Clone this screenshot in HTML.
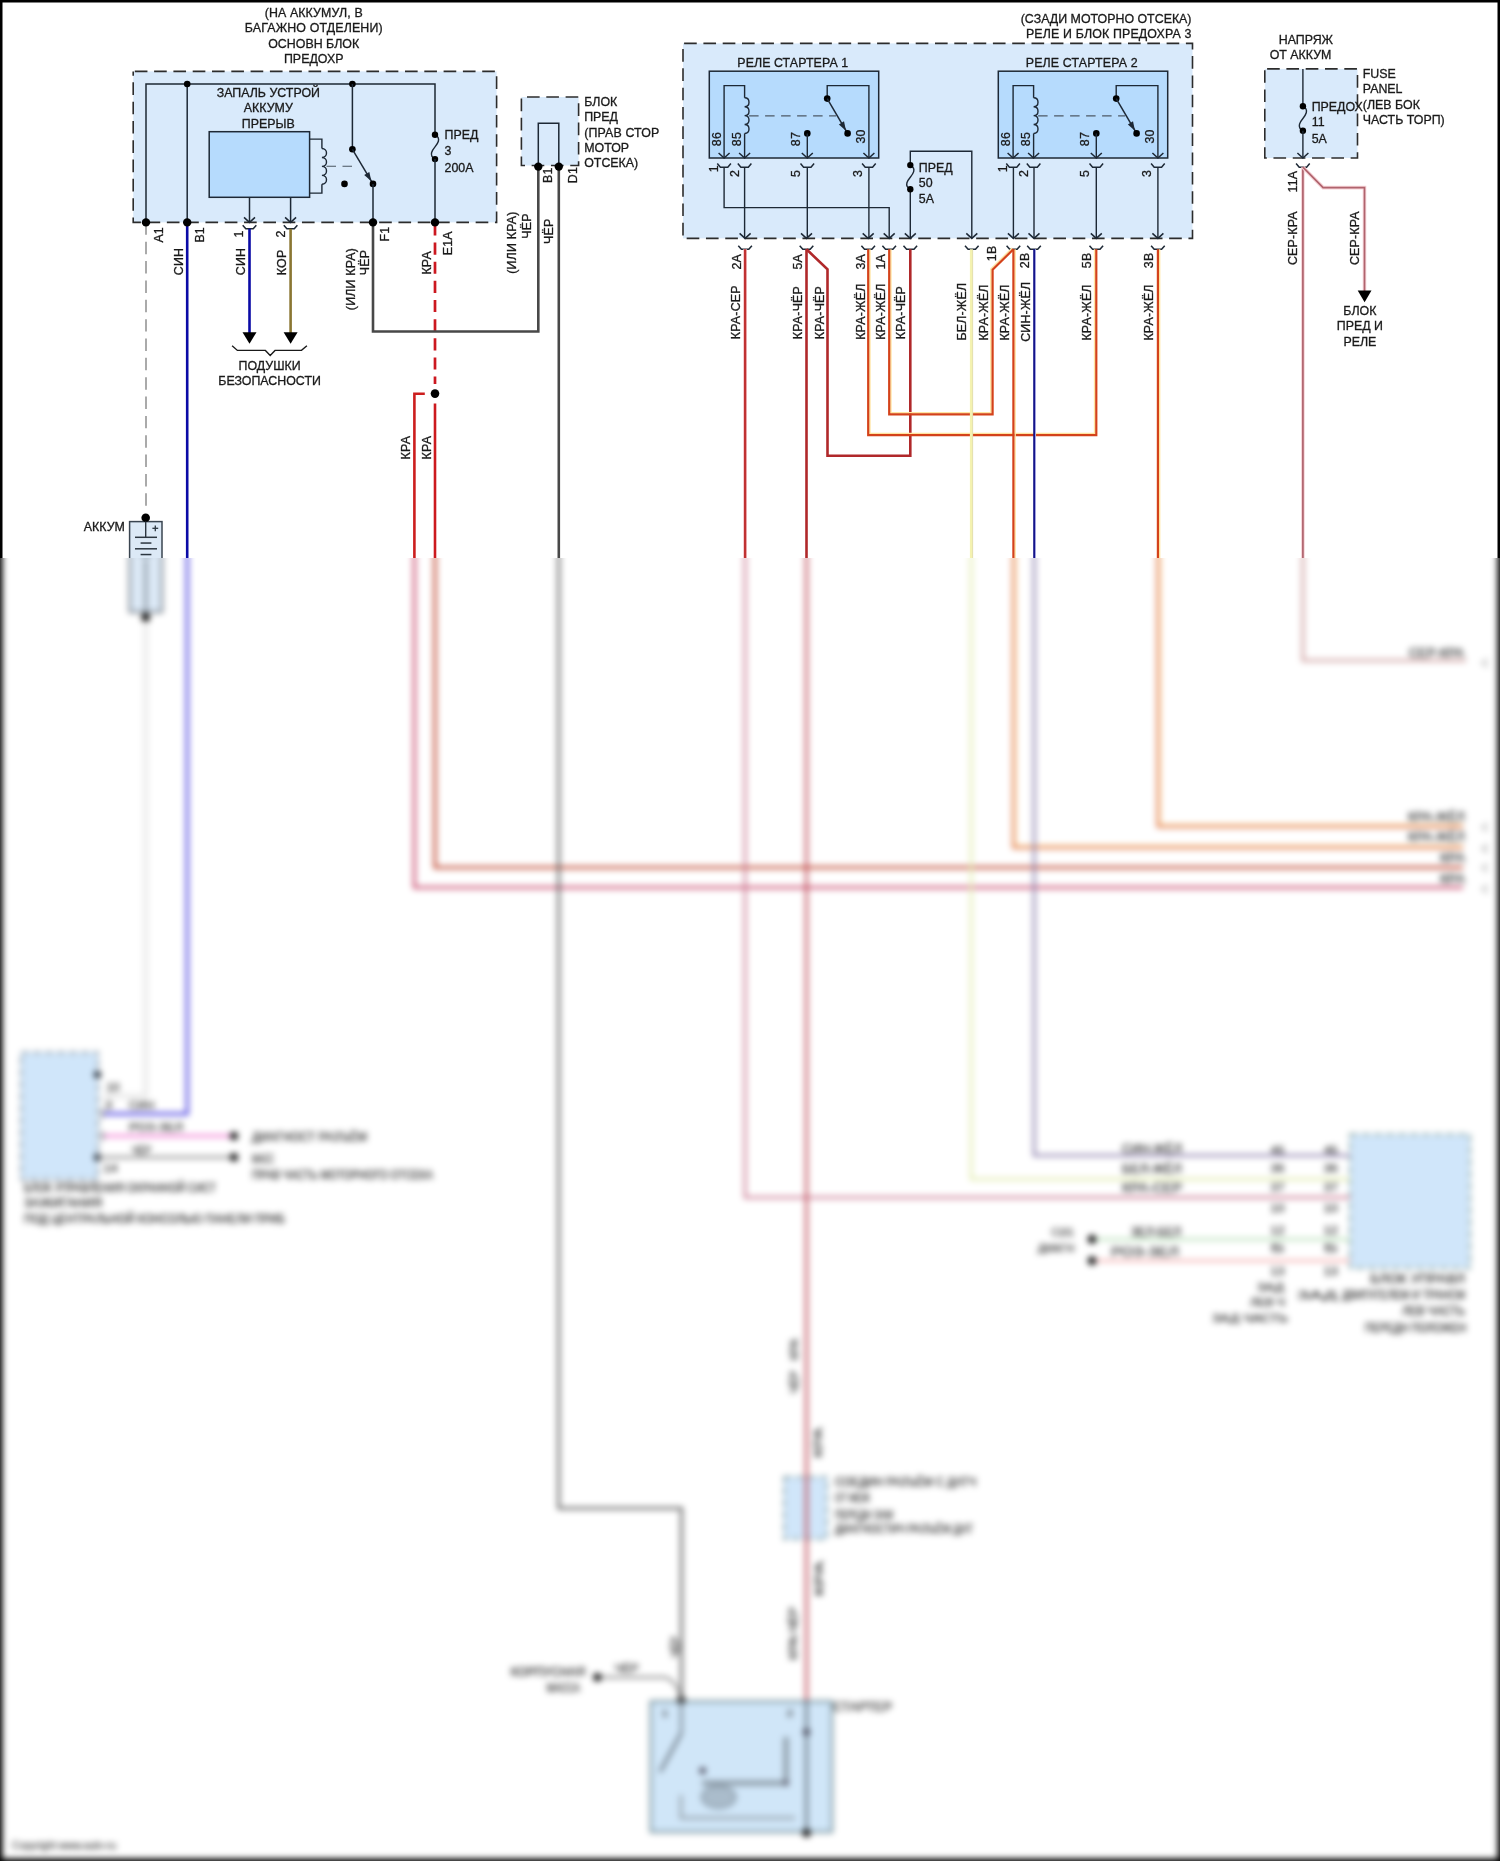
<!DOCTYPE html>
<html><head><meta charset="utf-8"><title>diagram</title>
<style>
html,body{margin:0;padding:0;background:#fff;overflow:hidden;}
svg{display:block;will-change:transform;}
text{font-family:"Liberation Sans",sans-serif;stroke:#1a1a1a;}
.t text{stroke-width:0.3px;}
.t text.v{letter-spacing:0.2px;}
.b text{stroke-width:0.25px;}
</style></head><body>
<svg width="1500" height="1861" viewBox="0 0 1500 1861">
<defs>
<filter id="bl" x="-0.05" y="-0.05" width="1.1" height="1.1" color-interpolation-filters="sRGB"><feGaussianBlur stdDeviation="3.0"/></filter>
<clipPath id="ct"><rect x="0" y="0" width="1500" height="558"/></clipPath>
<clipPath id="cb"><rect x="0" y="558" width="1500" height="1303"/></clipPath>
</defs>
<g clip-path="url(#ct)" class="t">
<rect x="-30" y="-30" width="1560" height="1921" fill="#fff"/>
<text x="313.7" y="17.2" font-size="12.4" fill="#1a1a1a" text-anchor="middle"  textLength="98.0" lengthAdjust="spacing">(НА АККУМУЛ, В</text>
<text x="313.7" y="32.4" font-size="12.4" fill="#1a1a1a" text-anchor="middle"  textLength="137.7" lengthAdjust="spacing">БАГАЖНО ОТДЕЛЕНИ)</text>
<text x="313.7" y="47.6" font-size="12.4" fill="#1a1a1a" text-anchor="middle" >ОСНОВН БЛОК</text>
<text x="313.7" y="62.8" font-size="12.4" fill="#1a1a1a" text-anchor="middle" >ПРЕДОХР</text>
<rect x="133.2" y="71.4" width="363.4" height="151" fill="#d9eafb" stroke="#2c2c2c" stroke-width="1.6" stroke-dasharray="12.65 6.65" stroke-dashoffset="17.7"/>
<polyline points="146,222.4 146,84 435,84 435,134.7" fill="none" stroke="#1d2835" stroke-width="1.5" stroke-linejoin="miter" />
<line x1="187.2" y1="84" x2="187.2" y2="222.4" stroke="#1d2835" stroke-width="1.5" />
<circle cx="187.2" cy="84" r="3.3" fill="#000"/>
<circle cx="352.4" cy="84" r="3.3" fill="#000"/>
<line x1="352.4" y1="84" x2="352.4" y2="149.3" stroke="#1d2835" stroke-width="1.5" />
<circle cx="352.4" cy="149.3" r="3.3" fill="#000"/>
<line x1="352.4" y1="149.3" x2="373" y2="183.9" stroke="#1d2835" stroke-width="1.5" />
<polygon points="371.36,181.15 364.18,174.95 369.34,171.88" fill="#1d2835"/>
<circle cx="373" cy="183.9" r="3.3" fill="#000"/>
<circle cx="344.5" cy="183.9" r="3.3" fill="#000"/>
<line x1="373" y1="183.9" x2="373" y2="222.4" stroke="#1d2835" stroke-width="1.5" />
<path d="M435,134.7 C442,138.36 437,144.46 435,146.9 C433,149.34 428,155.44 435,159.1" fill="none" stroke="#1d2835" stroke-width="1.4"/>
<circle cx="435" cy="134.7" r="3.2" fill="#000"/>
<circle cx="435" cy="159.1" r="3.2" fill="#000"/>
<line x1="435" y1="159.1" x2="435" y2="222.4" stroke="#1d2835" stroke-width="1.5" />
<text x="444.5" y="139.3" font-size="12.4" fill="#1a1a1a" text-anchor="start" >ПРЕД</text>
<text x="444.5" y="154.6" font-size="12.4" fill="#1a1a1a" text-anchor="start" >3</text>
<text x="444.5" y="171.7" font-size="12.4" fill="#1a1a1a" text-anchor="start" >200A</text>
<text x="268.3" y="96.7" font-size="12.4" fill="#1a1a1a" text-anchor="middle" >ЗАПАЛЬ УСТРОЙ</text>
<text x="268.3" y="112.2" font-size="12.4" fill="#1a1a1a" text-anchor="middle" >АККУМУ</text>
<text x="268.3" y="127.6" font-size="12.4" fill="#1a1a1a" text-anchor="middle" >ПРЕРЫВ</text>
<rect x="209.2" y="131.7" width="100.4" height="65.6" fill="#b6dbfd" stroke="#1d2835" stroke-width="1.5" />
<polyline points="309.6,139.1 321.9,139.1 321.9,148.5" fill="none" stroke="#1d2835" stroke-width="1.4" stroke-linejoin="miter" />
<path d="M321.9,148.5 C328.02,148.5 328.02,157.45 321.9,157.45 C328.02,157.45 328.02,166.4 321.9,166.4 C328.02,166.4 328.02,175.35 321.9,175.35 C328.02,175.35 328.02,184.3 321.9,184.3 " fill="none" stroke="#1d2835" stroke-width="1.4"/>
<polyline points="321.9,184.3 321.9,193.1 309.6,193.1" fill="none" stroke="#1d2835" stroke-width="1.4" stroke-linejoin="miter" />
<line x1="326.5" y1="166.3" x2="354.1" y2="166.3" stroke="#4a5560" stroke-width="1.1" stroke-dasharray="9.5 6.5"/>
<line x1="249.5" y1="197.4" x2="249.5" y2="222.4" stroke="#1d2835" stroke-width="1.5" />
<polyline points="244,217.4 249.5,222.4 255,217.4" fill="none" stroke="#1d2835" stroke-width="1.5" stroke-linejoin="miter" />
<line x1="290.6" y1="197.4" x2="290.6" y2="222.4" stroke="#1d2835" stroke-width="1.5" />
<polyline points="285.1,217.4 290.6,222.4 296.1,217.4" fill="none" stroke="#1d2835" stroke-width="1.5" stroke-linejoin="miter" />
<line x1="146" y1="222.4" x2="146" y2="506.3" stroke="#8e8e8e" stroke-width="1.5" stroke-dasharray="12.45 6.9"/>
<polyline points="187.2,222.4 187.2,1113.8 104,1113.8" fill="none" stroke="#0a0aa6" stroke-width="2.6" stroke-linejoin="miter" />
<polyline points="242.7,225.2 245.8,228.8 253.2,228.8 256.3,225.2" fill="none" stroke="#1d2835" stroke-width="1.5" stroke-linejoin="miter" />
<polyline points="249.5,228.8 249.5,333" fill="none" stroke="#0a0aa6" stroke-width="2.6" stroke-linejoin="miter" />
<polygon points="242.5,332.2 256.5,332.2 249.5,343.8" fill="#000"/>
<polyline points="283.8,225.2 286.9,228.8 294.3,228.8 297.4,225.2" fill="none" stroke="#1d2835" stroke-width="1.5" stroke-linejoin="miter" />
<polyline points="290.6,228.8 290.6,333" fill="none" stroke="#8a7632" stroke-width="2.6" stroke-linejoin="miter" />
<polygon points="283.6,332.2 297.6,332.2 290.6,343.8" fill="#000"/>
<polyline points="232.1,345.7 237.4,350.4 265.4,350.4 270.2,355.4 275,350.4 301.5,350.4 306.9,345.7" fill="none" stroke="#1a1a1a" stroke-width="1.4" stroke-linejoin="miter" />
<text x="269.6" y="369.8" font-size="12.4" fill="#1a1a1a" text-anchor="middle" >ПОДУШКИ</text>
<text x="269.6" y="385.3" font-size="12.4" fill="#1a1a1a" text-anchor="middle" >БЕЗОПАСНОСТИ</text>
<text class="v" transform="translate(162.72,242.6) rotate(-90)" font-size="12.4" fill="#1a1a1a" text-anchor="start">A1</text>
<text class="v" transform="translate(204.02,242.6) rotate(-90)" font-size="12.4" fill="#1a1a1a" text-anchor="start">B1</text>
<text class="v" transform="translate(182.72,275.2) rotate(-90)" font-size="12.4" fill="#1a1a1a" text-anchor="start">СИН</text>
<text class="v" transform="translate(243.32,237.6) rotate(-90)" font-size="12.4" fill="#1a1a1a" text-anchor="start">1</text>
<text class="v" transform="translate(244.82,275.2) rotate(-90)" font-size="12.4" fill="#1a1a1a" text-anchor="start">СИН</text>
<text class="v" transform="translate(285.42,237.6) rotate(-90)" font-size="12.4" fill="#1a1a1a" text-anchor="start">2</text>
<text class="v" transform="translate(286.12,275.2) rotate(-90)" font-size="12.4" fill="#1a1a1a" text-anchor="start">КОР</text>
<text class="v" transform="translate(389.32,241.5) rotate(-90)" font-size="12.4" fill="#1a1a1a" text-anchor="start">F1</text>
<text class="v" transform="translate(369.12,275.2) rotate(-90)" font-size="12.4" fill="#1a1a1a" text-anchor="start">ЧЁР</text>
<text class="v" transform="translate(354.52,310.2) rotate(-90)" font-size="12.4" fill="#1a1a1a" text-anchor="start">(ИЛИ КРА)</text>
<text class="v" transform="translate(451.72,255.3) rotate(-90)" font-size="12.4" fill="#1a1a1a" text-anchor="start">E1A</text>
<text class="v" transform="translate(430.92,274.6) rotate(-90)" font-size="12.4" fill="#1a1a1a" text-anchor="start">КРА</text>
<line x1="435" y1="223.4" x2="435" y2="384" stroke="#cc1820" stroke-width="2.7" stroke-dasharray="12.1 7.05"/>
<polyline points="373,222.4 373,331.5 538.3,331.5 538.3,166.6" fill="none" stroke="#484848" stroke-width="2.6" stroke-linejoin="miter" />
<circle cx="146" cy="222.4" r="4.2" fill="#000"/>
<circle cx="187.2" cy="222.4" r="4.2" fill="#000"/>
<circle cx="373" cy="222.4" r="4.2" fill="#000"/>
<circle cx="435" cy="222.4" r="4.2" fill="#000"/>
<circle cx="435" cy="393.6" r="4.3" fill="#000"/>
<polyline points="424.8,393.7 414.4,393.7 414.4,887.5 1463,887.5" fill="none" stroke="#cc1e1e" stroke-width="2.6" stroke-linejoin="miter" />
<polyline points="435,403.5 435,867.5 1463,867.5" fill="none" stroke="#cc1a1e" stroke-width="2.6" stroke-linejoin="miter" />
<text class="v" transform="translate(409.72,459.4) rotate(-90)" font-size="12.4" fill="#1a1a1a" text-anchor="start">КРА</text>
<text class="v" transform="translate(430.92,459.4) rotate(-90)" font-size="12.4" fill="#1a1a1a" text-anchor="start">КРА</text>
<rect x="521.4" y="97" width="57.2" height="68.5" fill="#d9eafb" stroke="#2c2c2c" stroke-width="1.6" stroke-dasharray="12.65 6.65" stroke-dashoffset="13.7"/>
<polyline points="538.3,166.6 538.3,123.2 558.8,123.2 558.8,166.6" fill="none" stroke="#1d2835" stroke-width="1.5" stroke-linejoin="miter" />
<text x="584.2" y="106.2" font-size="12.4" fill="#1a1a1a" text-anchor="start" >БЛОК</text>
<text x="584.2" y="121.45" font-size="12.4" fill="#1a1a1a" text-anchor="start" >ПРЕД</text>
<text x="584.2" y="136.7" font-size="12.4" fill="#1a1a1a" text-anchor="start"  textLength="75.0" lengthAdjust="spacing">(ПРАВ СТОР</text>
<text x="584.2" y="151.95" font-size="12.4" fill="#1a1a1a" text-anchor="start" >МОТОР</text>
<text x="584.2" y="167.2" font-size="12.4" fill="#1a1a1a" text-anchor="start" >ОТСЕКА)</text>
<text class="v" transform="translate(551.92,183) rotate(-90)" font-size="12.4" fill="#1a1a1a" text-anchor="start">B1</text>
<text class="v" transform="translate(577.22,183.2) rotate(-90)" font-size="12.4" fill="#1a1a1a" text-anchor="start">D1</text>
<polyline points="558.8,166.6 558.8,1508.3 681.5,1508.3 681.5,1700" fill="none" stroke="#484848" stroke-width="2.6" stroke-linejoin="miter" />
<circle cx="538.3" cy="166.6" r="4.2" fill="#000"/>
<circle cx="558.8" cy="166.6" r="4.2" fill="#000"/>
<text class="v" transform="translate(516.42,273.8) rotate(-90)" font-size="12.4" fill="#1a1a1a" text-anchor="start">(ИЛИ КРА)</text>
<text class="v" transform="translate(530.92,238.8) rotate(-90)" font-size="12.4" fill="#1a1a1a" text-anchor="start">ЧЁР</text>
<text class="v" transform="translate(552.62,244) rotate(-90)" font-size="12.4" fill="#1a1a1a" text-anchor="start">ЧЁР</text>
<text x="1191.5" y="23.2" font-size="12.4" fill="#1a1a1a" text-anchor="end" >(СЗАДИ МОТОРНО ОТСЕКА)</text>
<text x="1191.5" y="38" font-size="12.4" fill="#1a1a1a" text-anchor="end"  textLength="165.6" lengthAdjust="spacing">РЕЛЕ И БЛОК ПРЕДОХРА 3</text>
<rect x="683" y="43.4" width="509.5" height="195" fill="#d9eafb" stroke="#2c2c2c" stroke-width="1.6" stroke-dasharray="12.65 6.65" stroke-dashoffset="18.2"/>
<text x="737.3" y="67.2" font-size="12.4" fill="#1a1a1a" text-anchor="start"  textLength="110.9" lengthAdjust="spacing">РЕЛЕ СТАРТЕРА 1</text>
<rect x="709.3" y="71.2" width="169.4" height="86.8" fill="#b6dbfd" stroke="#1d2835" stroke-width="1.5" />
<polyline points="724.1,158 724.1,85.6 744.6,85.6 744.6,97.8" fill="none" stroke="#1d2835" stroke-width="1.4" stroke-linejoin="miter" />
<path d="M744.6,97.8 C750.45,97.8 750.45,106.72 744.6,106.72 C750.45,106.72 750.45,115.64 744.6,115.64 C750.45,115.64 750.45,124.56 744.6,124.56 C750.45,124.56 750.45,133.48 744.6,133.48 " fill="none" stroke="#1d2835" stroke-width="1.4"/>
<line x1="744.6" y1="133.5" x2="744.6" y2="158" stroke="#1d2835" stroke-width="1.4" />
<line x1="749.1" y1="115.9" x2="836" y2="115.9" stroke="#4d5a66" stroke-width="1.1" stroke-dasharray="9.5 6.5"/>
<polyline points="868.9,158 868.9,85.6 827.2,85.6 827.2,98.6" fill="none" stroke="#1d2835" stroke-width="1.4" stroke-linejoin="miter" />
<circle cx="827.2" cy="98.6" r="3.3" fill="#000"/>
<line x1="827.2" y1="98.6" x2="847.6" y2="133.4" stroke="#1d2835" stroke-width="1.5" />
<polygon points="845.98,130.64 838.84,124.39 844.02,121.36" fill="#1d2835"/>
<circle cx="847.6" cy="133.4" r="3.3" fill="#000"/>
<circle cx="807.3" cy="133.4" r="3.3" fill="#000"/>
<line x1="807.3" y1="133.4" x2="807.3" y2="158" stroke="#1d2835" stroke-width="1.4" />
<polyline points="718.6,153 724.1,158 729.6,153" fill="none" stroke="#1d2835" stroke-width="1.5" stroke-linejoin="miter" />
<polyline points="739.1,153 744.6,158 750.1,153" fill="none" stroke="#1d2835" stroke-width="1.5" stroke-linejoin="miter" />
<polyline points="801.8,153 807.3,158 812.8,153" fill="none" stroke="#1d2835" stroke-width="1.5" stroke-linejoin="miter" />
<polyline points="863.4,153 868.9,158 874.4,153" fill="none" stroke="#1d2835" stroke-width="1.5" stroke-linejoin="miter" />
<text class="v" transform="translate(720.52,146.2) rotate(-90)" font-size="12.4" fill="#1a1a1a" text-anchor="start">86</text>
<text class="v" transform="translate(740.82,146.2) rotate(-90)" font-size="12.4" fill="#1a1a1a" text-anchor="start">85</text>
<text class="v" transform="translate(800.32,146.2) rotate(-90)" font-size="12.4" fill="#1a1a1a" text-anchor="start">87</text>
<text class="v" transform="translate(864.72,143.6) rotate(-90)" font-size="12.4" fill="#1a1a1a" text-anchor="start">30</text>
<polyline points="717.3,163.6 720.4,167.2 727.8,167.2 730.9,163.6" fill="none" stroke="#1d2835" stroke-width="1.5" stroke-linejoin="miter" />
<polyline points="737.8,163.6 740.9,167.2 748.3,167.2 751.4,163.6" fill="none" stroke="#1d2835" stroke-width="1.5" stroke-linejoin="miter" />
<polyline points="800.5,163.6 803.6,167.2 811,167.2 814.1,163.6" fill="none" stroke="#1d2835" stroke-width="1.5" stroke-linejoin="miter" />
<polyline points="862.1,163.6 865.2,167.2 872.6,167.2 875.7,163.6" fill="none" stroke="#1d2835" stroke-width="1.5" stroke-linejoin="miter" />
<text class="v" transform="translate(717.82,172.3) rotate(-90)" font-size="12.4" fill="#1a1a1a" text-anchor="start">1</text>
<text class="v" transform="translate(738.82,177) rotate(-90)" font-size="12.4" fill="#1a1a1a" text-anchor="start">2</text>
<text class="v" transform="translate(800.32,177) rotate(-90)" font-size="12.4" fill="#1a1a1a" text-anchor="start">5</text>
<text class="v" transform="translate(861.92,177) rotate(-90)" font-size="12.4" fill="#1a1a1a" text-anchor="start">3</text>
<text x="1025.8" y="67.2" font-size="12.4" fill="#1a1a1a" text-anchor="start"  textLength="111.8" lengthAdjust="spacing">РЕЛЕ СТАРТЕРА 2</text>
<rect x="998.3" y="71.2" width="169.4" height="86.8" fill="#b6dbfd" stroke="#1d2835" stroke-width="1.5" />
<polyline points="1013.1,158 1013.1,85.6 1033.6,85.6 1033.6,97.8" fill="none" stroke="#1d2835" stroke-width="1.4" stroke-linejoin="miter" />
<path d="M1033.6,97.8 C1039.45,97.8 1039.45,106.72 1033.6,106.72 C1039.45,106.72 1039.45,115.64 1033.6,115.64 C1039.45,115.64 1039.45,124.56 1033.6,124.56 C1039.45,124.56 1039.45,133.48 1033.6,133.48 " fill="none" stroke="#1d2835" stroke-width="1.4"/>
<line x1="1033.6" y1="133.5" x2="1033.6" y2="158" stroke="#1d2835" stroke-width="1.4" />
<line x1="1038.1" y1="115.9" x2="1125" y2="115.9" stroke="#4d5a66" stroke-width="1.1" stroke-dasharray="9.5 6.5"/>
<polyline points="1157.9,158 1157.9,85.6 1116.2,85.6 1116.2,98.6" fill="none" stroke="#1d2835" stroke-width="1.4" stroke-linejoin="miter" />
<circle cx="1116.2" cy="98.6" r="3.3" fill="#000"/>
<line x1="1116.2" y1="98.6" x2="1136.6" y2="133.4" stroke="#1d2835" stroke-width="1.5" />
<polygon points="1134.98,130.64 1127.84,124.39 1133.02,121.36" fill="#1d2835"/>
<circle cx="1136.6" cy="133.4" r="3.3" fill="#000"/>
<circle cx="1096.3" cy="133.4" r="3.3" fill="#000"/>
<line x1="1096.3" y1="133.4" x2="1096.3" y2="158" stroke="#1d2835" stroke-width="1.4" />
<polyline points="1007.6,153 1013.1,158 1018.6,153" fill="none" stroke="#1d2835" stroke-width="1.5" stroke-linejoin="miter" />
<polyline points="1028.1,153 1033.6,158 1039.1,153" fill="none" stroke="#1d2835" stroke-width="1.5" stroke-linejoin="miter" />
<polyline points="1090.8,153 1096.3,158 1101.8,153" fill="none" stroke="#1d2835" stroke-width="1.5" stroke-linejoin="miter" />
<polyline points="1152.4,153 1157.9,158 1163.4,153" fill="none" stroke="#1d2835" stroke-width="1.5" stroke-linejoin="miter" />
<text class="v" transform="translate(1009.52,146.2) rotate(-90)" font-size="12.4" fill="#1a1a1a" text-anchor="start">86</text>
<text class="v" transform="translate(1029.82,146.2) rotate(-90)" font-size="12.4" fill="#1a1a1a" text-anchor="start">85</text>
<text class="v" transform="translate(1089.32,146.2) rotate(-90)" font-size="12.4" fill="#1a1a1a" text-anchor="start">87</text>
<text class="v" transform="translate(1153.72,143.6) rotate(-90)" font-size="12.4" fill="#1a1a1a" text-anchor="start">30</text>
<polyline points="1006.3,163.6 1009.4,167.2 1016.8,167.2 1019.9,163.6" fill="none" stroke="#1d2835" stroke-width="1.5" stroke-linejoin="miter" />
<polyline points="1026.8,163.6 1029.9,167.2 1037.3,167.2 1040.4,163.6" fill="none" stroke="#1d2835" stroke-width="1.5" stroke-linejoin="miter" />
<polyline points="1089.5,163.6 1092.6,167.2 1100,167.2 1103.1,163.6" fill="none" stroke="#1d2835" stroke-width="1.5" stroke-linejoin="miter" />
<polyline points="1151.1,163.6 1154.2,167.2 1161.6,167.2 1164.7,163.6" fill="none" stroke="#1d2835" stroke-width="1.5" stroke-linejoin="miter" />
<text class="v" transform="translate(1006.82,172.3) rotate(-90)" font-size="12.4" fill="#1a1a1a" text-anchor="start">1</text>
<text class="v" transform="translate(1027.82,177) rotate(-90)" font-size="12.4" fill="#1a1a1a" text-anchor="start">2</text>
<text class="v" transform="translate(1089.32,177) rotate(-90)" font-size="12.4" fill="#1a1a1a" text-anchor="start">5</text>
<text class="v" transform="translate(1150.92,177) rotate(-90)" font-size="12.4" fill="#1a1a1a" text-anchor="start">3</text>
<polyline points="724.1,167.2 724.1,207.6 889.2,207.6 889.2,238.4" fill="none" stroke="#1d2835" stroke-width="1.4" stroke-linejoin="miter" />
<line x1="744.6" y1="167.2" x2="744.6" y2="238.4" stroke="#1d2835" stroke-width="1.4" />
<line x1="807.3" y1="167.2" x2="807.3" y2="238.4" stroke="#1d2835" stroke-width="1.4" />
<line x1="868.9" y1="167.2" x2="868.9" y2="238.4" stroke="#1d2835" stroke-width="1.4" />
<polyline points="910.3,238.4 910.3,189.3" fill="none" stroke="#1d2835" stroke-width="1.4" stroke-linejoin="miter" />
<polyline points="910.3,165.1 910.3,151.3 971.8,151.3 971.8,238.4" fill="none" stroke="#1d2835" stroke-width="1.4" stroke-linejoin="miter" />
<path d="M910.3,165.1 C917.3,168.73 912.3,174.78 910.3,177.2 C908.3,179.62 903.3,185.67 910.3,189.3" fill="none" stroke="#1d2835" stroke-width="1.4"/>
<circle cx="910.3" cy="165.1" r="3.2" fill="#000"/>
<circle cx="910.3" cy="189.3" r="3.2" fill="#000"/>
<text x="918.8" y="171.6" font-size="12.4" fill="#1a1a1a" text-anchor="start" >ПРЕД</text>
<text x="918.8" y="186.6" font-size="12.4" fill="#1a1a1a" text-anchor="start" >50</text>
<text x="918.8" y="202.5" font-size="12.4" fill="#1a1a1a" text-anchor="start" >5A</text>
<line x1="1013.4" y1="167.2" x2="1013.4" y2="238.4" stroke="#1d2835" stroke-width="1.4" />
<line x1="1034" y1="167.2" x2="1034" y2="238.4" stroke="#1d2835" stroke-width="1.4" />
<line x1="1096.3" y1="167.2" x2="1096.3" y2="238.4" stroke="#1d2835" stroke-width="1.4" />
<line x1="1157.9" y1="167.2" x2="1157.9" y2="238.4" stroke="#1d2835" stroke-width="1.4" />
<polyline points="739.6,233.4 745.1,238.4 750.6,233.4" fill="none" stroke="#1d2835" stroke-width="1.5" stroke-linejoin="miter" />
<polyline points="801,233.4 806.5,238.4 812,233.4" fill="none" stroke="#1d2835" stroke-width="1.5" stroke-linejoin="miter" />
<polyline points="862.7,233.4 868.2,238.4 873.7,233.4" fill="none" stroke="#1d2835" stroke-width="1.5" stroke-linejoin="miter" />
<polyline points="883.7,233.4 889.2,238.4 894.7,233.4" fill="none" stroke="#1d2835" stroke-width="1.5" stroke-linejoin="miter" />
<polyline points="904.8,233.4 910.3,238.4 915.8,233.4" fill="none" stroke="#1d2835" stroke-width="1.5" stroke-linejoin="miter" />
<polyline points="966.3,233.4 971.8,238.4 977.3,233.4" fill="none" stroke="#1d2835" stroke-width="1.5" stroke-linejoin="miter" />
<polyline points="1007.9,233.4 1013.4,238.4 1018.9,233.4" fill="none" stroke="#1d2835" stroke-width="1.5" stroke-linejoin="miter" />
<polyline points="1028.5,233.4 1034,238.4 1039.5,233.4" fill="none" stroke="#1d2835" stroke-width="1.5" stroke-linejoin="miter" />
<polyline points="1090.8,233.4 1096.3,238.4 1101.8,233.4" fill="none" stroke="#1d2835" stroke-width="1.5" stroke-linejoin="miter" />
<polyline points="1152.4,233.4 1157.9,238.4 1163.4,233.4" fill="none" stroke="#1d2835" stroke-width="1.5" stroke-linejoin="miter" />
<polyline points="738.3,245.7 741.4,249.3 748.8,249.3 751.9,245.7" fill="none" stroke="#1d2835" stroke-width="1.5" stroke-linejoin="miter" />
<polyline points="799.7,245.7 802.8,249.3 810.2,249.3 813.3,245.7" fill="none" stroke="#1d2835" stroke-width="1.5" stroke-linejoin="miter" />
<polyline points="861.4,245.7 864.5,249.3 871.9,249.3 875,245.7" fill="none" stroke="#1d2835" stroke-width="1.5" stroke-linejoin="miter" />
<polyline points="882.4,245.7 885.5,249.3 892.9,249.3 896,245.7" fill="none" stroke="#1d2835" stroke-width="1.5" stroke-linejoin="miter" />
<polyline points="903.5,245.7 906.6,249.3 914,249.3 917.1,245.7" fill="none" stroke="#1d2835" stroke-width="1.5" stroke-linejoin="miter" />
<polyline points="965,245.7 968.1,249.3 975.5,249.3 978.6,245.7" fill="none" stroke="#1d2835" stroke-width="1.5" stroke-linejoin="miter" />
<polyline points="1006.6,245.7 1009.7,249.3 1017.1,249.3 1020.2,245.7" fill="none" stroke="#1d2835" stroke-width="1.5" stroke-linejoin="miter" />
<polyline points="1027.2,245.7 1030.3,249.3 1037.7,249.3 1040.8,245.7" fill="none" stroke="#1d2835" stroke-width="1.5" stroke-linejoin="miter" />
<polyline points="1089.5,245.7 1092.6,249.3 1100,249.3 1103.1,245.7" fill="none" stroke="#1d2835" stroke-width="1.5" stroke-linejoin="miter" />
<polyline points="1151.1,245.7 1154.2,249.3 1161.6,249.3 1164.7,245.7" fill="none" stroke="#1d2835" stroke-width="1.5" stroke-linejoin="miter" />
<polyline points="745.1,249.3 745.1,1197.5 1350,1197.5" fill="none" stroke="#f4c4c8" stroke-width="3.8" stroke-linejoin="miter" />
<polyline points="745.1,249.3 745.1,1197.5 1350,1197.5" fill="none" stroke="#c03232" stroke-width="2.2" stroke-linejoin="miter" />
<polyline points="806.5,249.3 806.5,1700" fill="none" stroke="#b0282a" stroke-width="2.6" stroke-linejoin="miter" />
<polyline points="806.5,249.3 827.5,269.4 827.5,455.7 910.3,455.7 910.3,249.3" fill="none" stroke="#b0282a" stroke-width="2.6" stroke-linejoin="miter" />
<polyline points="869.9,249.3 869.9,433.5 1094.6,433.5 1094.6,249.3" fill="none" stroke="#ffe4a0" stroke-width="1.5" stroke-linejoin="miter" />
<polyline points="868.2,249.3 868.2,435.2 1096.3,435.2 1096.3,249.3" fill="none" stroke="#d4421a" stroke-width="2.2" stroke-linejoin="miter" />
<polyline points="890.9,249.3 890.9,412.7 990.9,412.7 990.9,268.99 1012.21,248.09" fill="none" stroke="#ffe4a0" stroke-width="1.5" stroke-linejoin="miter" />
<polyline points="889.2,249.3 889.2,414.4 992.6,414.4 992.6,269.7 1013.4,249.3" fill="none" stroke="#d4421a" stroke-width="2.2" stroke-linejoin="miter" />
<polyline points="972.6,249.3 972.6,1177.8 1350,1177.8" fill="none" stroke="#d6cfa8" stroke-width="1.0" stroke-linejoin="miter" />
<polyline points="971.2,249.3 971.2,1179.2 1350,1179.2" fill="none" stroke="#f4f2b0" stroke-width="2.6" stroke-linejoin="miter" />
<polyline points="1015.1,249.3 1015.1,846 1463,846" fill="none" stroke="#ffe4a0" stroke-width="1.5" stroke-linejoin="miter" />
<polyline points="1013.4,249.3 1013.4,847.7 1463,847.7" fill="none" stroke="#d4421a" stroke-width="2.2" stroke-linejoin="miter" />
<polyline points="1035.4,249.3 1035.4,1154.3 1350,1154.3" fill="none" stroke="#c8c8f4" stroke-width="1.2" stroke-linejoin="miter" />
<polyline points="1034.2,249.3 1034.2,1155.5 1350,1155.5" fill="none" stroke="#14148a" stroke-width="2.0" stroke-linejoin="miter" />
<polyline points="1159.6,249.3 1159.6,825 1463,825" fill="none" stroke="#ffe4a0" stroke-width="1.5" stroke-linejoin="miter" />
<polyline points="1157.9,249.3 1157.9,826.7 1463,826.7" fill="none" stroke="#d4421a" stroke-width="2.2" stroke-linejoin="miter" />
<text class="v" transform="translate(740.52,269.6) rotate(-90)" font-size="12.4" fill="#1a1a1a" text-anchor="start">2A</text>
<text class="v" transform="translate(740.02,339.2) rotate(-90)" font-size="12.4" fill="#1a1a1a" text-anchor="start">КРА-СЕР</text>
<text class="v" transform="translate(802.12,269.6) rotate(-90)" font-size="12.4" fill="#1a1a1a" text-anchor="start">5A</text>
<text class="v" transform="translate(802.12,339.2) rotate(-90)" font-size="12.4" fill="#1a1a1a" text-anchor="start">КРА-ЧЁР</text>
<text class="v" transform="translate(823.72,339.2) rotate(-90)" font-size="12.4" fill="#1a1a1a" text-anchor="start">КРА-ЧЁР</text>
<text class="v" transform="translate(864.52,269.6) rotate(-90)" font-size="12.4" fill="#1a1a1a" text-anchor="start">3A</text>
<text class="v" transform="translate(884.72,269.6) rotate(-90)" font-size="12.4" fill="#1a1a1a" text-anchor="start">1A</text>
<text class="v" transform="translate(864.52,339.8) rotate(-90)" font-size="12.4" fill="#1a1a1a" text-anchor="start">КРА-ЖЁЛ</text>
<text class="v" transform="translate(884.72,339.8) rotate(-90)" font-size="12.4" fill="#1a1a1a" text-anchor="start">КРА-ЖЁЛ</text>
<text class="v" transform="translate(904.72,339.2) rotate(-90)" font-size="12.4" fill="#1a1a1a" text-anchor="start">КРА-ЧЁР</text>
<text class="v" transform="translate(966.32,340.6) rotate(-90)" font-size="12.4" fill="#1a1a1a" text-anchor="start">БЕЛ-ЖЁЛ</text>
<text class="v" transform="translate(996.32,261.2) rotate(-90)" font-size="12.4" fill="#1a1a1a" text-anchor="start">1B</text>
<text class="v" transform="translate(987.92,340.6) rotate(-90)" font-size="12.4" fill="#1a1a1a" text-anchor="start">КРА-ЖЁЛ</text>
<text class="v" transform="translate(1008.72,340.6) rotate(-90)" font-size="12.4" fill="#1a1a1a" text-anchor="start">КРА-ЖЁЛ</text>
<text class="v" transform="translate(1029.22,268.2) rotate(-90)" font-size="12.4" fill="#1a1a1a" text-anchor="start">2B</text>
<text class="v" transform="translate(1029.52,341.8) rotate(-90)" font-size="12.4" fill="#1a1a1a" text-anchor="start">СИН-ЖЁЛ</text>
<text class="v" transform="translate(1091.12,268.2) rotate(-90)" font-size="12.4" fill="#1a1a1a" text-anchor="start">5B</text>
<text class="v" transform="translate(1091.12,340.6) rotate(-90)" font-size="12.4" fill="#1a1a1a" text-anchor="start">КРА-ЖЁЛ</text>
<text class="v" transform="translate(1152.72,268.2) rotate(-90)" font-size="12.4" fill="#1a1a1a" text-anchor="start">3B</text>
<text class="v" transform="translate(1152.72,340.6) rotate(-90)" font-size="12.4" fill="#1a1a1a" text-anchor="start">КРА-ЖЁЛ</text>
<text x="1278.7" y="44" font-size="12.4" fill="#1a1a1a" text-anchor="start" >НАПРЯЖ</text>
<text x="1269.7" y="59.4" font-size="12.4" fill="#1a1a1a" text-anchor="start" >ОТ АККУМ</text>
<rect x="1264.8" y="68.9" width="92.7" height="89.1" fill="#d9eafb" stroke="#2c2c2c" stroke-width="1.6" stroke-dasharray="12.65 6.65" stroke-dashoffset="17"/>
<line x1="1302.9" y1="68.9" x2="1302.9" y2="106.2" stroke="#1d2835" stroke-width="1.4" />
<path d="M1302.9,106.2 C1309.9,109.88 1304.9,116 1302.9,118.45 C1300.9,120.9 1295.9,127.02 1302.9,130.7" fill="none" stroke="#1d2835" stroke-width="1.4"/>
<circle cx="1302.9" cy="106.2" r="3.2" fill="#000"/>
<circle cx="1302.9" cy="130.7" r="3.2" fill="#000"/>
<line x1="1302.9" y1="130.7" x2="1302.9" y2="158" stroke="#1d2835" stroke-width="1.4" />
<polyline points="1297.4,153 1302.9,158 1308.4,153" fill="none" stroke="#1d2835" stroke-width="1.5" stroke-linejoin="miter" />
<text x="1311.7" y="110.5" font-size="12.4" fill="#1a1a1a" text-anchor="start" >ПРЕДОХ</text>
<text x="1311.7" y="126" font-size="12.4" fill="#1a1a1a" text-anchor="start" >11</text>
<text x="1311.7" y="142.7" font-size="12.4" fill="#1a1a1a" text-anchor="start" >5A</text>
<text x="1362.8" y="77.6" font-size="12.4" fill="#1a1a1a" text-anchor="start" >FUSE</text>
<text x="1362.8" y="93.2" font-size="12.4" fill="#1a1a1a" text-anchor="start" >PANEL</text>
<text x="1362.8" y="108.8" font-size="12.4" fill="#1a1a1a" text-anchor="start" >(ЛЕВ БОК</text>
<text x="1362.8" y="124.4" font-size="12.4" fill="#1a1a1a" text-anchor="start" >ЧАСТЬ ТОРП)</text>
<polyline points="1296.1,163.6 1299.2,167.2 1306.6,167.2 1309.7,163.6" fill="none" stroke="#1d2835" stroke-width="1.5" stroke-linejoin="miter" />
<polyline points="1302.9,167.2 1302.9,660.5 1466,660.5" fill="none" stroke="#f6d2d6" stroke-width="3.6" stroke-linejoin="miter" />
<polyline points="1302.9,167.2 1302.9,660.5 1466,660.5" fill="none" stroke="#b0646e" stroke-width="1.7" stroke-linejoin="miter" />
<polyline points="1302.9,167.2 1323.1,187.6 1364.5,187.6 1364.5,291" fill="none" stroke="#f6d2d6" stroke-width="3.6" stroke-linejoin="miter" />
<polyline points="1302.9,167.2 1323.1,187.6 1364.5,187.6 1364.5,291" fill="none" stroke="#b0646e" stroke-width="1.7" stroke-linejoin="miter" />
<polygon points="1357.7,290.6 1371.5,290.6 1364.6,302.2" fill="#000"/>
<text class="v" transform="translate(1297.32,192.4) rotate(-90)" font-size="12.4" fill="#1a1a1a" text-anchor="start">11A</text>
<text class="v" transform="translate(1296.62,265.1) rotate(-90)" font-size="12.4" fill="#1a1a1a" text-anchor="start">СЕР-КРА</text>
<text class="v" transform="translate(1358.82,265.1) rotate(-90)" font-size="12.4" fill="#1a1a1a" text-anchor="start">СЕР-КРА</text>
<text x="1359.9" y="315.1" font-size="12.4" fill="#1a1a1a" text-anchor="middle" >БЛОК</text>
<text x="1359.9" y="330.4" font-size="12.4" fill="#1a1a1a" text-anchor="middle" >ПРЕД И</text>
<text x="1359.9" y="345.7" font-size="12.4" fill="#1a1a1a" text-anchor="middle" >РЕЛЕ</text>
<text x="83.8" y="531.3" font-size="12.4" fill="#1a1a1a" text-anchor="start" >АККУМ</text>
<rect x="129.6" y="521.6" width="32.4" height="90.5" fill="#dce9f6" stroke="#3a4550" stroke-width="1.5" />
<circle cx="145.7" cy="517.8" r="4.3" fill="#000"/>
<line x1="145.7" y1="521.6" x2="145.7" y2="537.3" stroke="#2c3640" stroke-width="1.4" />
<line x1="135" y1="537.3" x2="157" y2="537.3" stroke="#2c3640" stroke-width="1.5" />
<line x1="140.6" y1="543.05" x2="151.4" y2="543.05" stroke="#2c3640" stroke-width="1.5" />
<line x1="135" y1="548.8" x2="157" y2="548.8" stroke="#2c3640" stroke-width="1.5" />
<line x1="140.6" y1="554.55" x2="151.4" y2="554.55" stroke="#2c3640" stroke-width="1.5" />
<line x1="145.7" y1="559" x2="145.7" y2="612" stroke="#2c3640" stroke-width="1.4" />
<line x1="152.4" y1="528.3" x2="158.2" y2="528.3" stroke="#2c3640" stroke-width="1.3" />
<line x1="155.3" y1="525.4" x2="155.3" y2="531.2" stroke="#2c3640" stroke-width="1.3" />
<rect x="-20" y="-20" width="1540" height="1901" fill="none" stroke="#000" stroke-width="45"/>
</g>
<g clip-path="url(#cb)" class="b"><g filter="url(#bl)">
<rect x="-30" y="-30" width="1560" height="1921" fill="#fff"/>
<circle cx="145.7" cy="617.5" r="4.3" fill="#000"/>
<polyline points="145.7,621 145.7,1096 104,1096" fill="none" stroke="#d0d0d0" stroke-width="4.0" stroke-linejoin="miter" />
<polyline points="145.7,621 145.7,1096 104,1096" fill="none" stroke="#fbfbfb" stroke-width="2.0" stroke-linejoin="miter" />
<rect x="21" y="1052.5" width="77" height="127" fill="#d0e6fa" stroke="#8c98a4" stroke-width="2.0" stroke-dasharray="8 4"/>
<circle cx="97.5" cy="1074.6" r="3.8" fill="#2a3440"/>
<circle cx="97.5" cy="1157.2" r="3.8" fill="#2a3440"/>
<polyline points="104,1136 234,1136" fill="none" stroke="#f070d0" stroke-width="2.4" stroke-linejoin="miter" />
<polyline points="97.5,1157.2 234,1157.2" fill="none" stroke="#8a8a8a" stroke-width="2.4" stroke-linejoin="miter" />
<circle cx="234" cy="1136" r="4.3" fill="#222"/>
<circle cx="234" cy="1157.2" r="4.3" fill="#222"/>
<polyline points="101,1108.8 104,1113.8 101,1118.8" fill="none" stroke="#1d2835" stroke-width="1.2" stroke-linejoin="miter" />
<polyline points="101,1131 104,1136 101,1141" fill="none" stroke="#1d2835" stroke-width="1.2" stroke-linejoin="miter" />
<text x="106.5" y="1090.5" font-size="11" fill="#2a2a2a" text-anchor="start" textLength="13" lengthAdjust="spacingAndGlyphs">10</text>
<text x="105" y="1108.5" font-size="11" fill="#2a2a2a" text-anchor="start" textLength="7" lengthAdjust="spacingAndGlyphs">3</text>
<text x="103.5" y="1171.5" font-size="11" fill="#2a2a2a" text-anchor="start" textLength="14" lengthAdjust="spacingAndGlyphs">14</text>
<text x="129" y="1108.5" font-size="11" fill="#2a2a2a" text-anchor="start" textLength="25" lengthAdjust="spacingAndGlyphs">СИН</text>
<text x="129" y="1131" font-size="11" fill="#2a2a2a" text-anchor="start" textLength="54" lengthAdjust="spacingAndGlyphs">РОЗ-ЗЕЛ</text>
<text x="132" y="1153.5" font-size="11" fill="#2a2a2a" text-anchor="start" textLength="19" lengthAdjust="spacingAndGlyphs">ЧЁР</text>
<text x="252" y="1140.5" font-size="12" fill="#2a2a2a" text-anchor="start" textLength="115" lengthAdjust="spacingAndGlyphs">ДИАГНОСТ РАЗЪЁМ</text>
<text x="252" y="1162.5" font-size="12" fill="#2a2a2a" text-anchor="start" textLength="22" lengthAdjust="spacingAndGlyphs">МАСС</text>
<text x="252" y="1178.5" font-size="12" fill="#2a2a2a" text-anchor="start" textLength="181" lengthAdjust="spacingAndGlyphs">ПРАВ ЧАСТЬ МОТОРНОГО ОТСЕКА</text>
<text x="24" y="1191.5" font-size="12" fill="#2a2a2a" text-anchor="start" textLength="192" lengthAdjust="spacingAndGlyphs">БЛОК УПРАВЛЕНИЯ ОХРАННОЙ СИСТ</text>
<text x="24" y="1206.5" font-size="12" fill="#2a2a2a" text-anchor="start" textLength="78" lengthAdjust="spacingAndGlyphs">ЗАЖИГАНИЯ</text>
<text x="24" y="1222.5" font-size="12" fill="#2a2a2a" text-anchor="start" textLength="261" lengthAdjust="spacingAndGlyphs">ПОД ЦЕНТРАЛЬНОЙ КОНСОЛЬЮ ПАНЕЛИ ПРИБ</text>
<text x="1409" y="656.5" font-size="12" fill="#2a2a2a" text-anchor="start" textLength="55" lengthAdjust="spacingAndGlyphs">СЕР-КРА</text>
<text x="1408" y="820.5" font-size="12" fill="#2a2a2a" text-anchor="start" textLength="57" lengthAdjust="spacingAndGlyphs">КРА-ЖЁЛ</text>
<text x="1408" y="840.5" font-size="12" fill="#2a2a2a" text-anchor="start" textLength="57" lengthAdjust="spacingAndGlyphs">КРА-ЖЁЛ</text>
<text x="1440" y="861.5" font-size="12" fill="#2a2a2a" text-anchor="start" textLength="25" lengthAdjust="spacingAndGlyphs">КРА</text>
<text x="1440" y="882.5" font-size="12" fill="#2a2a2a" text-anchor="start" textLength="25" lengthAdjust="spacingAndGlyphs">КРА</text>
<polyline points="1488,659 1482,663 1488,667" fill="none" stroke="#999" stroke-width="1.3" stroke-linejoin="miter" />
<polyline points="1488,823.3 1482,827.3 1488,831.3" fill="none" stroke="#999" stroke-width="1.3" stroke-linejoin="miter" />
<polyline points="1488,844.6 1482,848.6 1488,852.6" fill="none" stroke="#999" stroke-width="1.3" stroke-linejoin="miter" />
<polyline points="1488,863.8 1482,867.8 1488,871.8" fill="none" stroke="#999" stroke-width="1.3" stroke-linejoin="miter" />
<polyline points="1488,885 1482,889 1488,893" fill="none" stroke="#999" stroke-width="1.3" stroke-linejoin="miter" />
<rect x="1350" y="1134.3" width="120" height="134" fill="#d0e6fa" stroke="#8fa8a4" stroke-width="2.0" stroke-dasharray="8 4"/>
<text x="1122" y="1152.5" font-size="12" fill="#2a2a2a" text-anchor="start" textLength="60" lengthAdjust="spacingAndGlyphs">СИН-ЖЁЛ</text>
<text x="1122" y="1172.5" font-size="12" fill="#2a2a2a" text-anchor="start" textLength="60" lengthAdjust="spacingAndGlyphs">БЕЛ-ЖЁЛ</text>
<text x="1122" y="1191.5" font-size="12" fill="#2a2a2a" text-anchor="start" textLength="60" lengthAdjust="spacingAndGlyphs">КРА-СЕР</text>
<text x="1270.5" y="1153.5" font-size="11" fill="#2a2a2a" text-anchor="start" textLength="14" lengthAdjust="spacingAndGlyphs">45</text>
<text x="1270.5" y="1172" font-size="11" fill="#2a2a2a" text-anchor="start" textLength="14" lengthAdjust="spacingAndGlyphs">36</text>
<text x="1270.5" y="1190.5" font-size="11" fill="#2a2a2a" text-anchor="start" textLength="14" lengthAdjust="spacingAndGlyphs">37</text>
<text x="1270.5" y="1212" font-size="11" fill="#2a2a2a" text-anchor="start" textLength="14" lengthAdjust="spacingAndGlyphs">10</text>
<text x="1270.5" y="1234" font-size="11" fill="#2a2a2a" text-anchor="start" textLength="14" lengthAdjust="spacingAndGlyphs">12</text>
<text x="1270.5" y="1252" font-size="11" fill="#2a2a2a" text-anchor="start" textLength="14" lengthAdjust="spacingAndGlyphs">5</text>
<text x="1270.5" y="1275" font-size="11" fill="#2a2a2a" text-anchor="start" textLength="14" lengthAdjust="spacingAndGlyphs">13</text>
<text x="1323.8" y="1153.5" font-size="11" fill="#2a2a2a" text-anchor="start" textLength="14" lengthAdjust="spacingAndGlyphs">45</text>
<text x="1323.8" y="1172" font-size="11" fill="#2a2a2a" text-anchor="start" textLength="14" lengthAdjust="spacingAndGlyphs">36</text>
<text x="1323.8" y="1190.5" font-size="11" fill="#2a2a2a" text-anchor="start" textLength="14" lengthAdjust="spacingAndGlyphs">37</text>
<text x="1323.8" y="1212" font-size="11" fill="#2a2a2a" text-anchor="start" textLength="14" lengthAdjust="spacingAndGlyphs">10</text>
<text x="1323.8" y="1234" font-size="11" fill="#2a2a2a" text-anchor="start" textLength="14" lengthAdjust="spacingAndGlyphs">12</text>
<text x="1323.8" y="1252" font-size="11" fill="#2a2a2a" text-anchor="start" textLength="14" lengthAdjust="spacingAndGlyphs">5</text>
<text x="1323.8" y="1275" font-size="11" fill="#2a2a2a" text-anchor="start" textLength="14" lengthAdjust="spacingAndGlyphs">13</text>
<text x="1272" y="1212" font-size="1" fill="#2a2a2a" text-anchor="start" textLength="0.1" lengthAdjust="spacingAndGlyphs">Д22</text>
<polyline points="1092,1239.3 1350,1239.3" fill="none" stroke="#b8e0b8" stroke-width="2.6" stroke-linejoin="miter" />
<polyline points="1092,1260.8 1350,1260.8" fill="none" stroke="#f4b0b0" stroke-width="2.6" stroke-linejoin="miter" />
<circle cx="1092" cy="1239.3" r="4.5" fill="#222"/>
<circle cx="1092" cy="1260.8" r="4.5" fill="#222"/>
<text x="1051.5" y="1236" font-size="11" fill="#2a2a2a" text-anchor="start" textLength="22" lengthAdjust="spacingAndGlyphs">C101</text>
<text x="1038" y="1251.5" font-size="11" fill="#2a2a2a" text-anchor="start" textLength="36" lengthAdjust="spacingAndGlyphs">ДИАГН</text>
<text x="1131" y="1235.5" font-size="12" fill="#2a2a2a" text-anchor="start" textLength="50" lengthAdjust="spacingAndGlyphs">ЗЕЛ-БЕЛ</text>
<text x="1111" y="1256" font-size="12" fill="#2a2a2a" text-anchor="start" textLength="68" lengthAdjust="spacingAndGlyphs">РОЗ-ЗЕЛ</text>
<text x="1257" y="1290.5" font-size="11" fill="#2a2a2a" text-anchor="start" textLength="27" lengthAdjust="spacingAndGlyphs">ЗАД</text>
<text x="1250" y="1305.5" font-size="11" fill="#2a2a2a" text-anchor="start" textLength="35" lengthAdjust="spacingAndGlyphs">ЛЕВ Ч</text>
<text x="1212" y="1322" font-size="11" fill="#2a2a2a" text-anchor="start" textLength="76" lengthAdjust="spacingAndGlyphs">ЗАД ЧАСТЬ</text>
<text x="1297" y="1299" font-size="11" fill="#2a2a2a" text-anchor="start" textLength="40" lengthAdjust="spacingAndGlyphs">ЗАД</text>
<text x="1370" y="1283" font-size="12" fill="#2a2a2a" text-anchor="start" textLength="95" lengthAdjust="spacingAndGlyphs">БЛОК УПРАВЛ</text>
<text x="1342" y="1299" font-size="12" fill="#2a2a2a" text-anchor="start" textLength="123" lengthAdjust="spacingAndGlyphs">ДВИГАТЕЛЕМ И ТРАНСМ</text>
<text x="1402" y="1314.5" font-size="12" fill="#2a2a2a" text-anchor="start" textLength="63" lengthAdjust="spacingAndGlyphs">ЛЕВ ЧАСТЬ</text>
<text x="1365" y="1331.5" font-size="12" fill="#2a2a2a" text-anchor="start" textLength="101" lengthAdjust="spacingAndGlyphs">ПЕРЕДН ПОЛОЖЕН</text>
<rect x="784" y="1477" width="43" height="62" fill="#d0e6fa" stroke="#8aa2a6" stroke-width="2.0" stroke-dasharray="8 4"/>
<text x="835" y="1486" font-size="12" fill="#2a2a2a" text-anchor="start" textLength="141" lengthAdjust="spacingAndGlyphs">СОЕДИН РАЗЪЁМ С ДАТЧ</text>
<text x="835" y="1502" font-size="12" fill="#2a2a2a" text-anchor="start" textLength="35" lengthAdjust="spacingAndGlyphs">ОТ МЕЖ</text>
<text x="835" y="1518.5" font-size="12" fill="#2a2a2a" text-anchor="start" textLength="58" lengthAdjust="spacingAndGlyphs">ПЕРЕДН ЗАМ</text>
<text x="835" y="1533" font-size="12" fill="#2a2a2a" text-anchor="start" textLength="138" lengthAdjust="spacingAndGlyphs">ДИАГНОСТИЧ РАЗЪЁМ ДАТ</text>
<text transform="translate(797.61,1360) rotate(-90)" font-size="11" fill="#2a2a2a" textLength="21" lengthAdjust="spacingAndGlyphs">КРА</text>
<text transform="translate(797.61,1393.6) rotate(-90)" font-size="11" fill="#2a2a2a" textLength="22.6" lengthAdjust="spacingAndGlyphs">ЧЁР</text>
<text transform="translate(822.41,1457.6) rotate(-90)" font-size="11" fill="#2a2a2a" textLength="30" lengthAdjust="spacingAndGlyphs">КРА</text>
<text transform="translate(822.71,1596) rotate(-90)" font-size="11" fill="#2a2a2a" textLength="35" lengthAdjust="spacingAndGlyphs">КРА</text>
<text transform="translate(797.31,1660) rotate(-90)" font-size="11" fill="#2a2a2a" textLength="53" lengthAdjust="spacingAndGlyphs">КРА-ЧЁР</text>
<text transform="translate(679.01,1657.3) rotate(-90)" font-size="11" fill="#2a2a2a" textLength="21" lengthAdjust="spacingAndGlyphs">ЧЁР</text>
<rect x="650.7" y="1701.3" width="181.3" height="130.7" fill="#d0e6f8" stroke="#6e8a94" stroke-width="2.2" />
<path d="M597.3,1677.3 L662,1677.3 Q676,1677.3 681.3,1700" fill="none" stroke="#8a8a8a" stroke-width="2.4"/>
<circle cx="597.3" cy="1677.3" r="4.3" fill="#222"/>
<circle cx="681.3" cy="1700" r="4.3" fill="#333"/>
<text x="510.7" y="1676" font-size="12" fill="#2a2a2a" text-anchor="start" textLength="74.6" lengthAdjust="spacingAndGlyphs">КОРПУСНАЯ</text>
<text x="546.7" y="1692" font-size="12" fill="#2a2a2a" text-anchor="start" textLength="33.3" lengthAdjust="spacingAndGlyphs">МАССА</text>
<text x="614.7" y="1672" font-size="11" fill="#2a2a2a" text-anchor="start" textLength="24" lengthAdjust="spacingAndGlyphs">ЧЁР</text>
<text x="833" y="1711" font-size="12" fill="#2a2a2a" text-anchor="start" textLength="59" lengthAdjust="spacingAndGlyphs">СТАРТЕР</text>
<line x1="681.3" y1="1700" x2="681.3" y2="1733" stroke="#5f6a74" stroke-width="2.0" />
<line x1="681.3" y1="1733" x2="660" y2="1772" stroke="#5f6a74" stroke-width="2.6" />
<circle cx="702.7" cy="1770.7" r="3.4" fill="#556"/>
<path d="M702,1783 L786,1783 L786,1737" fill="none" stroke="#8c9aa6" stroke-width="5"/>
<path d="M681,1795 L681,1818 L795,1818" fill="none" stroke="#9aa6b0" stroke-width="3"/>
<ellipse cx="718.7" cy="1797" rx="17" ry="11" fill="#aabccb" stroke="#8a9aa8" stroke-width="2"/>
<circle cx="786" cy="1783" r="3.0" fill="#667"/>
<line x1="806.5" y1="1700" x2="806.5" y2="1833" stroke="#4a5560" stroke-width="2.2" />
<circle cx="806.5" cy="1732" r="3.6" fill="#445"/>
<circle cx="806.5" cy="1833" r="4.4" fill="#222"/>
<text x="662" y="1716" font-size="9" fill="#444" text-anchor="start" textLength="6" lengthAdjust="spacingAndGlyphs">1</text>
<text x="787" y="1716" font-size="9" fill="#444" text-anchor="start" textLength="6" lengthAdjust="spacingAndGlyphs">2</text>
<text x="12" y="1849" font-size="10" fill="#666" text-anchor="start" textLength="104" lengthAdjust="spacingAndGlyphs">Copyright www.auto-ru</text>
<text x="313.7" y="17.2" font-size="12.4" fill="#1a1a1a" text-anchor="middle"  textLength="98.0" lengthAdjust="spacing">(НА АККУМУЛ, В</text>
<text x="313.7" y="32.4" font-size="12.4" fill="#1a1a1a" text-anchor="middle"  textLength="137.7" lengthAdjust="spacing">БАГАЖНО ОТДЕЛЕНИ)</text>
<text x="313.7" y="47.6" font-size="12.4" fill="#1a1a1a" text-anchor="middle" >ОСНОВН БЛОК</text>
<text x="313.7" y="62.8" font-size="12.4" fill="#1a1a1a" text-anchor="middle" >ПРЕДОХР</text>
<rect x="133.2" y="71.4" width="363.4" height="151" fill="#d9eafb" stroke="#2c2c2c" stroke-width="1.6" stroke-dasharray="12.65 6.65" stroke-dashoffset="17.7"/>
<polyline points="146,222.4 146,84 435,84 435,134.7" fill="none" stroke="#1d2835" stroke-width="1.5" stroke-linejoin="miter" />
<line x1="187.2" y1="84" x2="187.2" y2="222.4" stroke="#1d2835" stroke-width="1.5" />
<circle cx="187.2" cy="84" r="3.3" fill="#000"/>
<circle cx="352.4" cy="84" r="3.3" fill="#000"/>
<line x1="352.4" y1="84" x2="352.4" y2="149.3" stroke="#1d2835" stroke-width="1.5" />
<circle cx="352.4" cy="149.3" r="3.3" fill="#000"/>
<line x1="352.4" y1="149.3" x2="373" y2="183.9" stroke="#1d2835" stroke-width="1.5" />
<polygon points="371.36,181.15 364.18,174.95 369.34,171.88" fill="#1d2835"/>
<circle cx="373" cy="183.9" r="3.3" fill="#000"/>
<circle cx="344.5" cy="183.9" r="3.3" fill="#000"/>
<line x1="373" y1="183.9" x2="373" y2="222.4" stroke="#1d2835" stroke-width="1.5" />
<path d="M435,134.7 C442,138.36 437,144.46 435,146.9 C433,149.34 428,155.44 435,159.1" fill="none" stroke="#1d2835" stroke-width="1.4"/>
<circle cx="435" cy="134.7" r="3.2" fill="#000"/>
<circle cx="435" cy="159.1" r="3.2" fill="#000"/>
<line x1="435" y1="159.1" x2="435" y2="222.4" stroke="#1d2835" stroke-width="1.5" />
<text x="444.5" y="139.3" font-size="12.4" fill="#1a1a1a" text-anchor="start" >ПРЕД</text>
<text x="444.5" y="154.6" font-size="12.4" fill="#1a1a1a" text-anchor="start" >3</text>
<text x="444.5" y="171.7" font-size="12.4" fill="#1a1a1a" text-anchor="start" >200A</text>
<text x="268.3" y="96.7" font-size="12.4" fill="#1a1a1a" text-anchor="middle" >ЗАПАЛЬ УСТРОЙ</text>
<text x="268.3" y="112.2" font-size="12.4" fill="#1a1a1a" text-anchor="middle" >АККУМУ</text>
<text x="268.3" y="127.6" font-size="12.4" fill="#1a1a1a" text-anchor="middle" >ПРЕРЫВ</text>
<rect x="209.2" y="131.7" width="100.4" height="65.6" fill="#b6dbfd" stroke="#1d2835" stroke-width="1.5" />
<polyline points="309.6,139.1 321.9,139.1 321.9,148.5" fill="none" stroke="#1d2835" stroke-width="1.4" stroke-linejoin="miter" />
<path d="M321.9,148.5 C328.02,148.5 328.02,157.45 321.9,157.45 C328.02,157.45 328.02,166.4 321.9,166.4 C328.02,166.4 328.02,175.35 321.9,175.35 C328.02,175.35 328.02,184.3 321.9,184.3 " fill="none" stroke="#1d2835" stroke-width="1.4"/>
<polyline points="321.9,184.3 321.9,193.1 309.6,193.1" fill="none" stroke="#1d2835" stroke-width="1.4" stroke-linejoin="miter" />
<line x1="326.5" y1="166.3" x2="354.1" y2="166.3" stroke="#4a5560" stroke-width="1.1" stroke-dasharray="9.5 6.5"/>
<line x1="249.5" y1="197.4" x2="249.5" y2="222.4" stroke="#1d2835" stroke-width="1.5" />
<polyline points="244,217.4 249.5,222.4 255,217.4" fill="none" stroke="#1d2835" stroke-width="1.5" stroke-linejoin="miter" />
<line x1="290.6" y1="197.4" x2="290.6" y2="222.4" stroke="#1d2835" stroke-width="1.5" />
<polyline points="285.1,217.4 290.6,222.4 296.1,217.4" fill="none" stroke="#1d2835" stroke-width="1.5" stroke-linejoin="miter" />
<line x1="146" y1="222.4" x2="146" y2="506.3" stroke="#8e8e8e" stroke-width="1.5" stroke-dasharray="12.45 6.9"/>
<polyline points="187.2,222.4 187.2,1113.8 104,1113.8" fill="none" stroke="#3c32df" stroke-width="2.7" stroke-linejoin="miter" />
<polyline points="242.7,225.2 245.8,228.8 253.2,228.8 256.3,225.2" fill="none" stroke="#1d2835" stroke-width="1.5" stroke-linejoin="miter" />
<polyline points="249.5,228.8 249.5,333" fill="none" stroke="#3c32df" stroke-width="2.7" stroke-linejoin="miter" />
<polygon points="242.5,332.2 256.5,332.2 249.5,343.8" fill="#000"/>
<polyline points="283.8,225.2 286.9,228.8 294.3,228.8 297.4,225.2" fill="none" stroke="#1d2835" stroke-width="1.5" stroke-linejoin="miter" />
<polyline points="290.6,228.8 290.6,333" fill="none" stroke="#8a7632" stroke-width="2.6" stroke-linejoin="miter" />
<polygon points="283.6,332.2 297.6,332.2 290.6,343.8" fill="#000"/>
<polyline points="232.1,345.7 237.4,350.4 265.4,350.4 270.2,355.4 275,350.4 301.5,350.4 306.9,345.7" fill="none" stroke="#1a1a1a" stroke-width="1.4" stroke-linejoin="miter" />
<text x="269.6" y="369.8" font-size="12.4" fill="#1a1a1a" text-anchor="middle" >ПОДУШКИ</text>
<text x="269.6" y="385.3" font-size="12.4" fill="#1a1a1a" text-anchor="middle" >БЕЗОПАСНОСТИ</text>
<text class="v" transform="translate(162.72,242.6) rotate(-90)" font-size="12.4" fill="#1a1a1a" text-anchor="start">A1</text>
<text class="v" transform="translate(204.02,242.6) rotate(-90)" font-size="12.4" fill="#1a1a1a" text-anchor="start">B1</text>
<text class="v" transform="translate(182.72,275.2) rotate(-90)" font-size="12.4" fill="#1a1a1a" text-anchor="start">СИН</text>
<text class="v" transform="translate(243.32,237.6) rotate(-90)" font-size="12.4" fill="#1a1a1a" text-anchor="start">1</text>
<text class="v" transform="translate(244.82,275.2) rotate(-90)" font-size="12.4" fill="#1a1a1a" text-anchor="start">СИН</text>
<text class="v" transform="translate(285.42,237.6) rotate(-90)" font-size="12.4" fill="#1a1a1a" text-anchor="start">2</text>
<text class="v" transform="translate(286.12,275.2) rotate(-90)" font-size="12.4" fill="#1a1a1a" text-anchor="start">КОР</text>
<text class="v" transform="translate(389.32,241.5) rotate(-90)" font-size="12.4" fill="#1a1a1a" text-anchor="start">F1</text>
<text class="v" transform="translate(369.12,275.2) rotate(-90)" font-size="12.4" fill="#1a1a1a" text-anchor="start">ЧЁР</text>
<text class="v" transform="translate(354.52,310.2) rotate(-90)" font-size="12.4" fill="#1a1a1a" text-anchor="start">(ИЛИ КРА)</text>
<text class="v" transform="translate(451.72,255.3) rotate(-90)" font-size="12.4" fill="#1a1a1a" text-anchor="start">E1A</text>
<text class="v" transform="translate(430.92,274.6) rotate(-90)" font-size="12.4" fill="#1a1a1a" text-anchor="start">КРА</text>
<line x1="435" y1="223.4" x2="435" y2="384" stroke="#cc1820" stroke-width="2.7" stroke-dasharray="12.1 7.05"/>
<polyline points="373,222.4 373,331.5 538.3,331.5 538.3,166.6" fill="none" stroke="#555555" stroke-width="2.6" stroke-linejoin="miter" />
<circle cx="146" cy="222.4" r="4.2" fill="#000"/>
<circle cx="187.2" cy="222.4" r="4.2" fill="#000"/>
<circle cx="373" cy="222.4" r="4.2" fill="#000"/>
<circle cx="435" cy="222.4" r="4.2" fill="#000"/>
<circle cx="435" cy="393.6" r="4.3" fill="#000"/>
<polyline points="424.8,393.7 414.4,393.7 414.4,887.5 1463,887.5" fill="none" stroke="#c43a60" stroke-width="2.7" stroke-linejoin="miter" />
<polyline points="435,403.5 435,867.5 1463,867.5" fill="none" stroke="#b72e15" stroke-width="2.7" stroke-linejoin="miter" />
<text class="v" transform="translate(409.72,459.4) rotate(-90)" font-size="12.4" fill="#1a1a1a" text-anchor="start">КРА</text>
<text class="v" transform="translate(430.92,459.4) rotate(-90)" font-size="12.4" fill="#1a1a1a" text-anchor="start">КРА</text>
<rect x="521.4" y="97" width="57.2" height="68.5" fill="#d9eafb" stroke="#2c2c2c" stroke-width="1.6" stroke-dasharray="12.65 6.65" stroke-dashoffset="13.7"/>
<polyline points="538.3,166.6 538.3,123.2 558.8,123.2 558.8,166.6" fill="none" stroke="#1d2835" stroke-width="1.5" stroke-linejoin="miter" />
<text x="584.2" y="106.2" font-size="12.4" fill="#1a1a1a" text-anchor="start" >БЛОК</text>
<text x="584.2" y="121.45" font-size="12.4" fill="#1a1a1a" text-anchor="start" >ПРЕД</text>
<text x="584.2" y="136.7" font-size="12.4" fill="#1a1a1a" text-anchor="start"  textLength="75.0" lengthAdjust="spacing">(ПРАВ СТОР</text>
<text x="584.2" y="151.95" font-size="12.4" fill="#1a1a1a" text-anchor="start" >МОТОР</text>
<text x="584.2" y="167.2" font-size="12.4" fill="#1a1a1a" text-anchor="start" >ОТСЕКА)</text>
<text class="v" transform="translate(551.92,183) rotate(-90)" font-size="12.4" fill="#1a1a1a" text-anchor="start">B1</text>
<text class="v" transform="translate(577.22,183.2) rotate(-90)" font-size="12.4" fill="#1a1a1a" text-anchor="start">D1</text>
<polyline points="558.8,166.6 558.8,1508.3 681.5,1508.3 681.5,1700" fill="none" stroke="#555555" stroke-width="2.6" stroke-linejoin="miter" />
<circle cx="538.3" cy="166.6" r="4.2" fill="#000"/>
<circle cx="558.8" cy="166.6" r="4.2" fill="#000"/>
<text class="v" transform="translate(516.42,273.8) rotate(-90)" font-size="12.4" fill="#1a1a1a" text-anchor="start">(ИЛИ КРА)</text>
<text class="v" transform="translate(530.92,238.8) rotate(-90)" font-size="12.4" fill="#1a1a1a" text-anchor="start">ЧЁР</text>
<text class="v" transform="translate(552.62,244) rotate(-90)" font-size="12.4" fill="#1a1a1a" text-anchor="start">ЧЁР</text>
<text x="1191.5" y="23.2" font-size="12.4" fill="#1a1a1a" text-anchor="end" >(СЗАДИ МОТОРНО ОТСЕКА)</text>
<text x="1191.5" y="38" font-size="12.4" fill="#1a1a1a" text-anchor="end"  textLength="165.6" lengthAdjust="spacing">РЕЛЕ И БЛОК ПРЕДОХРА 3</text>
<rect x="683" y="43.4" width="509.5" height="195" fill="#d9eafb" stroke="#2c2c2c" stroke-width="1.6" stroke-dasharray="12.65 6.65" stroke-dashoffset="18.2"/>
<text x="737.3" y="67.2" font-size="12.4" fill="#1a1a1a" text-anchor="start"  textLength="110.9" lengthAdjust="spacing">РЕЛЕ СТАРТЕРА 1</text>
<rect x="709.3" y="71.2" width="169.4" height="86.8" fill="#b6dbfd" stroke="#1d2835" stroke-width="1.5" />
<polyline points="724.1,158 724.1,85.6 744.6,85.6 744.6,97.8" fill="none" stroke="#1d2835" stroke-width="1.4" stroke-linejoin="miter" />
<path d="M744.6,97.8 C750.45,97.8 750.45,106.72 744.6,106.72 C750.45,106.72 750.45,115.64 744.6,115.64 C750.45,115.64 750.45,124.56 744.6,124.56 C750.45,124.56 750.45,133.48 744.6,133.48 " fill="none" stroke="#1d2835" stroke-width="1.4"/>
<line x1="744.6" y1="133.5" x2="744.6" y2="158" stroke="#1d2835" stroke-width="1.4" />
<line x1="749.1" y1="115.9" x2="836" y2="115.9" stroke="#4d5a66" stroke-width="1.1" stroke-dasharray="9.5 6.5"/>
<polyline points="868.9,158 868.9,85.6 827.2,85.6 827.2,98.6" fill="none" stroke="#1d2835" stroke-width="1.4" stroke-linejoin="miter" />
<circle cx="827.2" cy="98.6" r="3.3" fill="#000"/>
<line x1="827.2" y1="98.6" x2="847.6" y2="133.4" stroke="#1d2835" stroke-width="1.5" />
<polygon points="845.98,130.64 838.84,124.39 844.02,121.36" fill="#1d2835"/>
<circle cx="847.6" cy="133.4" r="3.3" fill="#000"/>
<circle cx="807.3" cy="133.4" r="3.3" fill="#000"/>
<line x1="807.3" y1="133.4" x2="807.3" y2="158" stroke="#1d2835" stroke-width="1.4" />
<polyline points="718.6,153 724.1,158 729.6,153" fill="none" stroke="#1d2835" stroke-width="1.5" stroke-linejoin="miter" />
<polyline points="739.1,153 744.6,158 750.1,153" fill="none" stroke="#1d2835" stroke-width="1.5" stroke-linejoin="miter" />
<polyline points="801.8,153 807.3,158 812.8,153" fill="none" stroke="#1d2835" stroke-width="1.5" stroke-linejoin="miter" />
<polyline points="863.4,153 868.9,158 874.4,153" fill="none" stroke="#1d2835" stroke-width="1.5" stroke-linejoin="miter" />
<text class="v" transform="translate(720.52,146.2) rotate(-90)" font-size="12.4" fill="#1a1a1a" text-anchor="start">86</text>
<text class="v" transform="translate(740.82,146.2) rotate(-90)" font-size="12.4" fill="#1a1a1a" text-anchor="start">85</text>
<text class="v" transform="translate(800.32,146.2) rotate(-90)" font-size="12.4" fill="#1a1a1a" text-anchor="start">87</text>
<text class="v" transform="translate(864.72,143.6) rotate(-90)" font-size="12.4" fill="#1a1a1a" text-anchor="start">30</text>
<polyline points="717.3,163.6 720.4,167.2 727.8,167.2 730.9,163.6" fill="none" stroke="#1d2835" stroke-width="1.5" stroke-linejoin="miter" />
<polyline points="737.8,163.6 740.9,167.2 748.3,167.2 751.4,163.6" fill="none" stroke="#1d2835" stroke-width="1.5" stroke-linejoin="miter" />
<polyline points="800.5,163.6 803.6,167.2 811,167.2 814.1,163.6" fill="none" stroke="#1d2835" stroke-width="1.5" stroke-linejoin="miter" />
<polyline points="862.1,163.6 865.2,167.2 872.6,167.2 875.7,163.6" fill="none" stroke="#1d2835" stroke-width="1.5" stroke-linejoin="miter" />
<text class="v" transform="translate(717.82,172.3) rotate(-90)" font-size="12.4" fill="#1a1a1a" text-anchor="start">1</text>
<text class="v" transform="translate(738.82,177) rotate(-90)" font-size="12.4" fill="#1a1a1a" text-anchor="start">2</text>
<text class="v" transform="translate(800.32,177) rotate(-90)" font-size="12.4" fill="#1a1a1a" text-anchor="start">5</text>
<text class="v" transform="translate(861.92,177) rotate(-90)" font-size="12.4" fill="#1a1a1a" text-anchor="start">3</text>
<text x="1025.8" y="67.2" font-size="12.4" fill="#1a1a1a" text-anchor="start"  textLength="111.8" lengthAdjust="spacing">РЕЛЕ СТАРТЕРА 2</text>
<rect x="998.3" y="71.2" width="169.4" height="86.8" fill="#b6dbfd" stroke="#1d2835" stroke-width="1.5" />
<polyline points="1013.1,158 1013.1,85.6 1033.6,85.6 1033.6,97.8" fill="none" stroke="#1d2835" stroke-width="1.4" stroke-linejoin="miter" />
<path d="M1033.6,97.8 C1039.45,97.8 1039.45,106.72 1033.6,106.72 C1039.45,106.72 1039.45,115.64 1033.6,115.64 C1039.45,115.64 1039.45,124.56 1033.6,124.56 C1039.45,124.56 1039.45,133.48 1033.6,133.48 " fill="none" stroke="#1d2835" stroke-width="1.4"/>
<line x1="1033.6" y1="133.5" x2="1033.6" y2="158" stroke="#1d2835" stroke-width="1.4" />
<line x1="1038.1" y1="115.9" x2="1125" y2="115.9" stroke="#4d5a66" stroke-width="1.1" stroke-dasharray="9.5 6.5"/>
<polyline points="1157.9,158 1157.9,85.6 1116.2,85.6 1116.2,98.6" fill="none" stroke="#1d2835" stroke-width="1.4" stroke-linejoin="miter" />
<circle cx="1116.2" cy="98.6" r="3.3" fill="#000"/>
<line x1="1116.2" y1="98.6" x2="1136.6" y2="133.4" stroke="#1d2835" stroke-width="1.5" />
<polygon points="1134.98,130.64 1127.84,124.39 1133.02,121.36" fill="#1d2835"/>
<circle cx="1136.6" cy="133.4" r="3.3" fill="#000"/>
<circle cx="1096.3" cy="133.4" r="3.3" fill="#000"/>
<line x1="1096.3" y1="133.4" x2="1096.3" y2="158" stroke="#1d2835" stroke-width="1.4" />
<polyline points="1007.6,153 1013.1,158 1018.6,153" fill="none" stroke="#1d2835" stroke-width="1.5" stroke-linejoin="miter" />
<polyline points="1028.1,153 1033.6,158 1039.1,153" fill="none" stroke="#1d2835" stroke-width="1.5" stroke-linejoin="miter" />
<polyline points="1090.8,153 1096.3,158 1101.8,153" fill="none" stroke="#1d2835" stroke-width="1.5" stroke-linejoin="miter" />
<polyline points="1152.4,153 1157.9,158 1163.4,153" fill="none" stroke="#1d2835" stroke-width="1.5" stroke-linejoin="miter" />
<text class="v" transform="translate(1009.52,146.2) rotate(-90)" font-size="12.4" fill="#1a1a1a" text-anchor="start">86</text>
<text class="v" transform="translate(1029.82,146.2) rotate(-90)" font-size="12.4" fill="#1a1a1a" text-anchor="start">85</text>
<text class="v" transform="translate(1089.32,146.2) rotate(-90)" font-size="12.4" fill="#1a1a1a" text-anchor="start">87</text>
<text class="v" transform="translate(1153.72,143.6) rotate(-90)" font-size="12.4" fill="#1a1a1a" text-anchor="start">30</text>
<polyline points="1006.3,163.6 1009.4,167.2 1016.8,167.2 1019.9,163.6" fill="none" stroke="#1d2835" stroke-width="1.5" stroke-linejoin="miter" />
<polyline points="1026.8,163.6 1029.9,167.2 1037.3,167.2 1040.4,163.6" fill="none" stroke="#1d2835" stroke-width="1.5" stroke-linejoin="miter" />
<polyline points="1089.5,163.6 1092.6,167.2 1100,167.2 1103.1,163.6" fill="none" stroke="#1d2835" stroke-width="1.5" stroke-linejoin="miter" />
<polyline points="1151.1,163.6 1154.2,167.2 1161.6,167.2 1164.7,163.6" fill="none" stroke="#1d2835" stroke-width="1.5" stroke-linejoin="miter" />
<text class="v" transform="translate(1006.82,172.3) rotate(-90)" font-size="12.4" fill="#1a1a1a" text-anchor="start">1</text>
<text class="v" transform="translate(1027.82,177) rotate(-90)" font-size="12.4" fill="#1a1a1a" text-anchor="start">2</text>
<text class="v" transform="translate(1089.32,177) rotate(-90)" font-size="12.4" fill="#1a1a1a" text-anchor="start">5</text>
<text class="v" transform="translate(1150.92,177) rotate(-90)" font-size="12.4" fill="#1a1a1a" text-anchor="start">3</text>
<polyline points="724.1,167.2 724.1,207.6 889.2,207.6 889.2,238.4" fill="none" stroke="#1d2835" stroke-width="1.4" stroke-linejoin="miter" />
<line x1="744.6" y1="167.2" x2="744.6" y2="238.4" stroke="#1d2835" stroke-width="1.4" />
<line x1="807.3" y1="167.2" x2="807.3" y2="238.4" stroke="#1d2835" stroke-width="1.4" />
<line x1="868.9" y1="167.2" x2="868.9" y2="238.4" stroke="#1d2835" stroke-width="1.4" />
<polyline points="910.3,238.4 910.3,189.3" fill="none" stroke="#1d2835" stroke-width="1.4" stroke-linejoin="miter" />
<polyline points="910.3,165.1 910.3,151.3 971.8,151.3 971.8,238.4" fill="none" stroke="#1d2835" stroke-width="1.4" stroke-linejoin="miter" />
<path d="M910.3,165.1 C917.3,168.73 912.3,174.78 910.3,177.2 C908.3,179.62 903.3,185.67 910.3,189.3" fill="none" stroke="#1d2835" stroke-width="1.4"/>
<circle cx="910.3" cy="165.1" r="3.2" fill="#000"/>
<circle cx="910.3" cy="189.3" r="3.2" fill="#000"/>
<text x="918.8" y="171.6" font-size="12.4" fill="#1a1a1a" text-anchor="start" >ПРЕД</text>
<text x="918.8" y="186.6" font-size="12.4" fill="#1a1a1a" text-anchor="start" >50</text>
<text x="918.8" y="202.5" font-size="12.4" fill="#1a1a1a" text-anchor="start" >5A</text>
<line x1="1013.4" y1="167.2" x2="1013.4" y2="238.4" stroke="#1d2835" stroke-width="1.4" />
<line x1="1034" y1="167.2" x2="1034" y2="238.4" stroke="#1d2835" stroke-width="1.4" />
<line x1="1096.3" y1="167.2" x2="1096.3" y2="238.4" stroke="#1d2835" stroke-width="1.4" />
<line x1="1157.9" y1="167.2" x2="1157.9" y2="238.4" stroke="#1d2835" stroke-width="1.4" />
<polyline points="739.6,233.4 745.1,238.4 750.6,233.4" fill="none" stroke="#1d2835" stroke-width="1.5" stroke-linejoin="miter" />
<polyline points="801,233.4 806.5,238.4 812,233.4" fill="none" stroke="#1d2835" stroke-width="1.5" stroke-linejoin="miter" />
<polyline points="862.7,233.4 868.2,238.4 873.7,233.4" fill="none" stroke="#1d2835" stroke-width="1.5" stroke-linejoin="miter" />
<polyline points="883.7,233.4 889.2,238.4 894.7,233.4" fill="none" stroke="#1d2835" stroke-width="1.5" stroke-linejoin="miter" />
<polyline points="904.8,233.4 910.3,238.4 915.8,233.4" fill="none" stroke="#1d2835" stroke-width="1.5" stroke-linejoin="miter" />
<polyline points="966.3,233.4 971.8,238.4 977.3,233.4" fill="none" stroke="#1d2835" stroke-width="1.5" stroke-linejoin="miter" />
<polyline points="1007.9,233.4 1013.4,238.4 1018.9,233.4" fill="none" stroke="#1d2835" stroke-width="1.5" stroke-linejoin="miter" />
<polyline points="1028.5,233.4 1034,238.4 1039.5,233.4" fill="none" stroke="#1d2835" stroke-width="1.5" stroke-linejoin="miter" />
<polyline points="1090.8,233.4 1096.3,238.4 1101.8,233.4" fill="none" stroke="#1d2835" stroke-width="1.5" stroke-linejoin="miter" />
<polyline points="1152.4,233.4 1157.9,238.4 1163.4,233.4" fill="none" stroke="#1d2835" stroke-width="1.5" stroke-linejoin="miter" />
<polyline points="738.3,245.7 741.4,249.3 748.8,249.3 751.9,245.7" fill="none" stroke="#1d2835" stroke-width="1.5" stroke-linejoin="miter" />
<polyline points="799.7,245.7 802.8,249.3 810.2,249.3 813.3,245.7" fill="none" stroke="#1d2835" stroke-width="1.5" stroke-linejoin="miter" />
<polyline points="861.4,245.7 864.5,249.3 871.9,249.3 875,245.7" fill="none" stroke="#1d2835" stroke-width="1.5" stroke-linejoin="miter" />
<polyline points="882.4,245.7 885.5,249.3 892.9,249.3 896,245.7" fill="none" stroke="#1d2835" stroke-width="1.5" stroke-linejoin="miter" />
<polyline points="903.5,245.7 906.6,249.3 914,249.3 917.1,245.7" fill="none" stroke="#1d2835" stroke-width="1.5" stroke-linejoin="miter" />
<polyline points="965,245.7 968.1,249.3 975.5,249.3 978.6,245.7" fill="none" stroke="#1d2835" stroke-width="1.5" stroke-linejoin="miter" />
<polyline points="1006.6,245.7 1009.7,249.3 1017.1,249.3 1020.2,245.7" fill="none" stroke="#1d2835" stroke-width="1.5" stroke-linejoin="miter" />
<polyline points="1027.2,245.7 1030.3,249.3 1037.7,249.3 1040.8,245.7" fill="none" stroke="#1d2835" stroke-width="1.5" stroke-linejoin="miter" />
<polyline points="1089.5,245.7 1092.6,249.3 1100,249.3 1103.1,245.7" fill="none" stroke="#1d2835" stroke-width="1.5" stroke-linejoin="miter" />
<polyline points="1151.1,245.7 1154.2,249.3 1161.6,249.3 1164.7,245.7" fill="none" stroke="#1d2835" stroke-width="1.5" stroke-linejoin="miter" />
<polyline points="745.1,249.3 745.1,1197.5 1350,1197.5" fill="none" stroke="#ca7992" stroke-width="2.6" stroke-linejoin="miter" />
<polyline points="806.5,249.3 806.5,1700" fill="none" stroke="#bd4753" stroke-width="2.7" stroke-linejoin="miter" />
<polyline points="806.5,249.3 827.5,269.4 827.5,455.7 910.3,455.7 910.3,249.3" fill="none" stroke="#bd4753" stroke-width="2.7" stroke-linejoin="miter" />
<polyline points="870,249.3 870,433.4 1094.5,433.4 1094.5,249.3" fill="none" stroke="#ffd890" stroke-width="1.8" stroke-linejoin="miter" />
<polyline points="868.2,249.3 868.2,435.2 1096.3,435.2 1096.3,249.3" fill="none" stroke="#df7a52" stroke-width="2.5" stroke-linejoin="miter" />
<polyline points="891,249.3 891,412.6 990.8,412.6 990.8,268.94 1012.14,248.01" fill="none" stroke="#ffd890" stroke-width="1.8" stroke-linejoin="miter" />
<polyline points="889.2,249.3 889.2,414.4 992.6,414.4 992.6,269.7 1013.4,249.3" fill="none" stroke="#df7a52" stroke-width="2.5" stroke-linejoin="miter" />
<polyline points="971.2,249.3 971.2,1179.2 1350,1179.2" fill="none" stroke="#e2ecb0" stroke-width="2.8" stroke-linejoin="miter" />
<polyline points="1015.2,249.3 1015.2,845.9 1463,845.9" fill="none" stroke="#ffd890" stroke-width="1.8" stroke-linejoin="miter" />
<polyline points="1013.4,249.3 1013.4,847.7 1463,847.7" fill="none" stroke="#df7a52" stroke-width="2.5" stroke-linejoin="miter" />
<polyline points="1034.2,249.3 1034.2,1155.5 1350,1155.5" fill="none" stroke="#8a7eac" stroke-width="2.7" stroke-linejoin="miter" />
<polyline points="1159.7,249.3 1159.7,824.9 1463,824.9" fill="none" stroke="#ffd890" stroke-width="1.8" stroke-linejoin="miter" />
<polyline points="1157.9,249.3 1157.9,826.7 1463,826.7" fill="none" stroke="#df7a52" stroke-width="2.5" stroke-linejoin="miter" />
<text class="v" transform="translate(740.52,269.6) rotate(-90)" font-size="12.4" fill="#1a1a1a" text-anchor="start">2A</text>
<text class="v" transform="translate(740.02,339.2) rotate(-90)" font-size="12.4" fill="#1a1a1a" text-anchor="start">КРА-СЕР</text>
<text class="v" transform="translate(802.12,269.6) rotate(-90)" font-size="12.4" fill="#1a1a1a" text-anchor="start">5A</text>
<text class="v" transform="translate(802.12,339.2) rotate(-90)" font-size="12.4" fill="#1a1a1a" text-anchor="start">КРА-ЧЁР</text>
<text class="v" transform="translate(823.72,339.2) rotate(-90)" font-size="12.4" fill="#1a1a1a" text-anchor="start">КРА-ЧЁР</text>
<text class="v" transform="translate(864.52,269.6) rotate(-90)" font-size="12.4" fill="#1a1a1a" text-anchor="start">3A</text>
<text class="v" transform="translate(884.72,269.6) rotate(-90)" font-size="12.4" fill="#1a1a1a" text-anchor="start">1A</text>
<text class="v" transform="translate(864.52,339.8) rotate(-90)" font-size="12.4" fill="#1a1a1a" text-anchor="start">КРА-ЖЁЛ</text>
<text class="v" transform="translate(884.72,339.8) rotate(-90)" font-size="12.4" fill="#1a1a1a" text-anchor="start">КРА-ЖЁЛ</text>
<text class="v" transform="translate(904.72,339.2) rotate(-90)" font-size="12.4" fill="#1a1a1a" text-anchor="start">КРА-ЧЁР</text>
<text class="v" transform="translate(966.32,340.6) rotate(-90)" font-size="12.4" fill="#1a1a1a" text-anchor="start">БЕЛ-ЖЁЛ</text>
<text class="v" transform="translate(996.32,261.2) rotate(-90)" font-size="12.4" fill="#1a1a1a" text-anchor="start">1B</text>
<text class="v" transform="translate(987.92,340.6) rotate(-90)" font-size="12.4" fill="#1a1a1a" text-anchor="start">КРА-ЖЁЛ</text>
<text class="v" transform="translate(1008.72,340.6) rotate(-90)" font-size="12.4" fill="#1a1a1a" text-anchor="start">КРА-ЖЁЛ</text>
<text class="v" transform="translate(1029.22,268.2) rotate(-90)" font-size="12.4" fill="#1a1a1a" text-anchor="start">2B</text>
<text class="v" transform="translate(1029.52,341.8) rotate(-90)" font-size="12.4" fill="#1a1a1a" text-anchor="start">СИН-ЖЁЛ</text>
<text class="v" transform="translate(1091.12,268.2) rotate(-90)" font-size="12.4" fill="#1a1a1a" text-anchor="start">5B</text>
<text class="v" transform="translate(1091.12,340.6) rotate(-90)" font-size="12.4" fill="#1a1a1a" text-anchor="start">КРА-ЖЁЛ</text>
<text class="v" transform="translate(1152.72,268.2) rotate(-90)" font-size="12.4" fill="#1a1a1a" text-anchor="start">3B</text>
<text class="v" transform="translate(1152.72,340.6) rotate(-90)" font-size="12.4" fill="#1a1a1a" text-anchor="start">КРА-ЖЁЛ</text>
<text x="1278.7" y="44" font-size="12.4" fill="#1a1a1a" text-anchor="start" >НАПРЯЖ</text>
<text x="1269.7" y="59.4" font-size="12.4" fill="#1a1a1a" text-anchor="start" >ОТ АККУМ</text>
<rect x="1264.8" y="68.9" width="92.7" height="89.1" fill="#d9eafb" stroke="#2c2c2c" stroke-width="1.6" stroke-dasharray="12.65 6.65" stroke-dashoffset="17"/>
<line x1="1302.9" y1="68.9" x2="1302.9" y2="106.2" stroke="#1d2835" stroke-width="1.4" />
<path d="M1302.9,106.2 C1309.9,109.88 1304.9,116 1302.9,118.45 C1300.9,120.9 1295.9,127.02 1302.9,130.7" fill="none" stroke="#1d2835" stroke-width="1.4"/>
<circle cx="1302.9" cy="106.2" r="3.2" fill="#000"/>
<circle cx="1302.9" cy="130.7" r="3.2" fill="#000"/>
<line x1="1302.9" y1="130.7" x2="1302.9" y2="158" stroke="#1d2835" stroke-width="1.4" />
<polyline points="1297.4,153 1302.9,158 1308.4,153" fill="none" stroke="#1d2835" stroke-width="1.5" stroke-linejoin="miter" />
<text x="1311.7" y="110.5" font-size="12.4" fill="#1a1a1a" text-anchor="start" >ПРЕДОХ</text>
<text x="1311.7" y="126" font-size="12.4" fill="#1a1a1a" text-anchor="start" >11</text>
<text x="1311.7" y="142.7" font-size="12.4" fill="#1a1a1a" text-anchor="start" >5A</text>
<text x="1362.8" y="77.6" font-size="12.4" fill="#1a1a1a" text-anchor="start" >FUSE</text>
<text x="1362.8" y="93.2" font-size="12.4" fill="#1a1a1a" text-anchor="start" >PANEL</text>
<text x="1362.8" y="108.8" font-size="12.4" fill="#1a1a1a" text-anchor="start" >(ЛЕВ БОК</text>
<text x="1362.8" y="124.4" font-size="12.4" fill="#1a1a1a" text-anchor="start" >ЧАСТЬ ТОРП)</text>
<polyline points="1296.1,163.6 1299.2,167.2 1306.6,167.2 1309.7,163.6" fill="none" stroke="#1d2835" stroke-width="1.5" stroke-linejoin="miter" />
<polyline points="1302.9,167.2 1302.9,660.5 1466,660.5" fill="none" stroke="#cc9b9b" stroke-width="2.7" stroke-linejoin="miter" />
<polyline points="1302.9,167.2 1323.1,187.6 1364.5,187.6 1364.5,291" fill="none" stroke="#cc9b9b" stroke-width="2.7" stroke-linejoin="miter" />
<polygon points="1357.7,290.6 1371.5,290.6 1364.6,302.2" fill="#000"/>
<text class="v" transform="translate(1297.32,192.4) rotate(-90)" font-size="12.4" fill="#1a1a1a" text-anchor="start">11A</text>
<text class="v" transform="translate(1296.62,265.1) rotate(-90)" font-size="12.4" fill="#1a1a1a" text-anchor="start">СЕР-КРА</text>
<text class="v" transform="translate(1358.82,265.1) rotate(-90)" font-size="12.4" fill="#1a1a1a" text-anchor="start">СЕР-КРА</text>
<text x="1359.9" y="315.1" font-size="12.4" fill="#1a1a1a" text-anchor="middle" >БЛОК</text>
<text x="1359.9" y="330.4" font-size="12.4" fill="#1a1a1a" text-anchor="middle" >ПРЕД И</text>
<text x="1359.9" y="345.7" font-size="12.4" fill="#1a1a1a" text-anchor="middle" >РЕЛЕ</text>
<text x="83.8" y="531.3" font-size="12.4" fill="#1a1a1a" text-anchor="start" >АККУМ</text>
<rect x="129.6" y="521.6" width="32.4" height="90.5" fill="#dce9f6" stroke="#3a4550" stroke-width="1.5" />
<circle cx="145.7" cy="517.8" r="4.3" fill="#000"/>
<line x1="145.7" y1="521.6" x2="145.7" y2="537.3" stroke="#2c3640" stroke-width="1.4" />
<line x1="135" y1="537.3" x2="157" y2="537.3" stroke="#2c3640" stroke-width="1.5" />
<line x1="140.6" y1="543.05" x2="151.4" y2="543.05" stroke="#2c3640" stroke-width="1.5" />
<line x1="135" y1="548.8" x2="157" y2="548.8" stroke="#2c3640" stroke-width="1.5" />
<line x1="140.6" y1="554.55" x2="151.4" y2="554.55" stroke="#2c3640" stroke-width="1.5" />
<line x1="145.7" y1="559" x2="145.7" y2="612" stroke="#2c3640" stroke-width="1.4" />
<line x1="152.4" y1="528.3" x2="158.2" y2="528.3" stroke="#2c3640" stroke-width="1.3" />
<line x1="155.3" y1="525.4" x2="155.3" y2="531.2" stroke="#2c3640" stroke-width="1.3" />
<rect x="-20" y="-20" width="1540" height="1901" fill="none" stroke="#000" stroke-width="45"/>
</g></g>
</svg>
</body></html>
